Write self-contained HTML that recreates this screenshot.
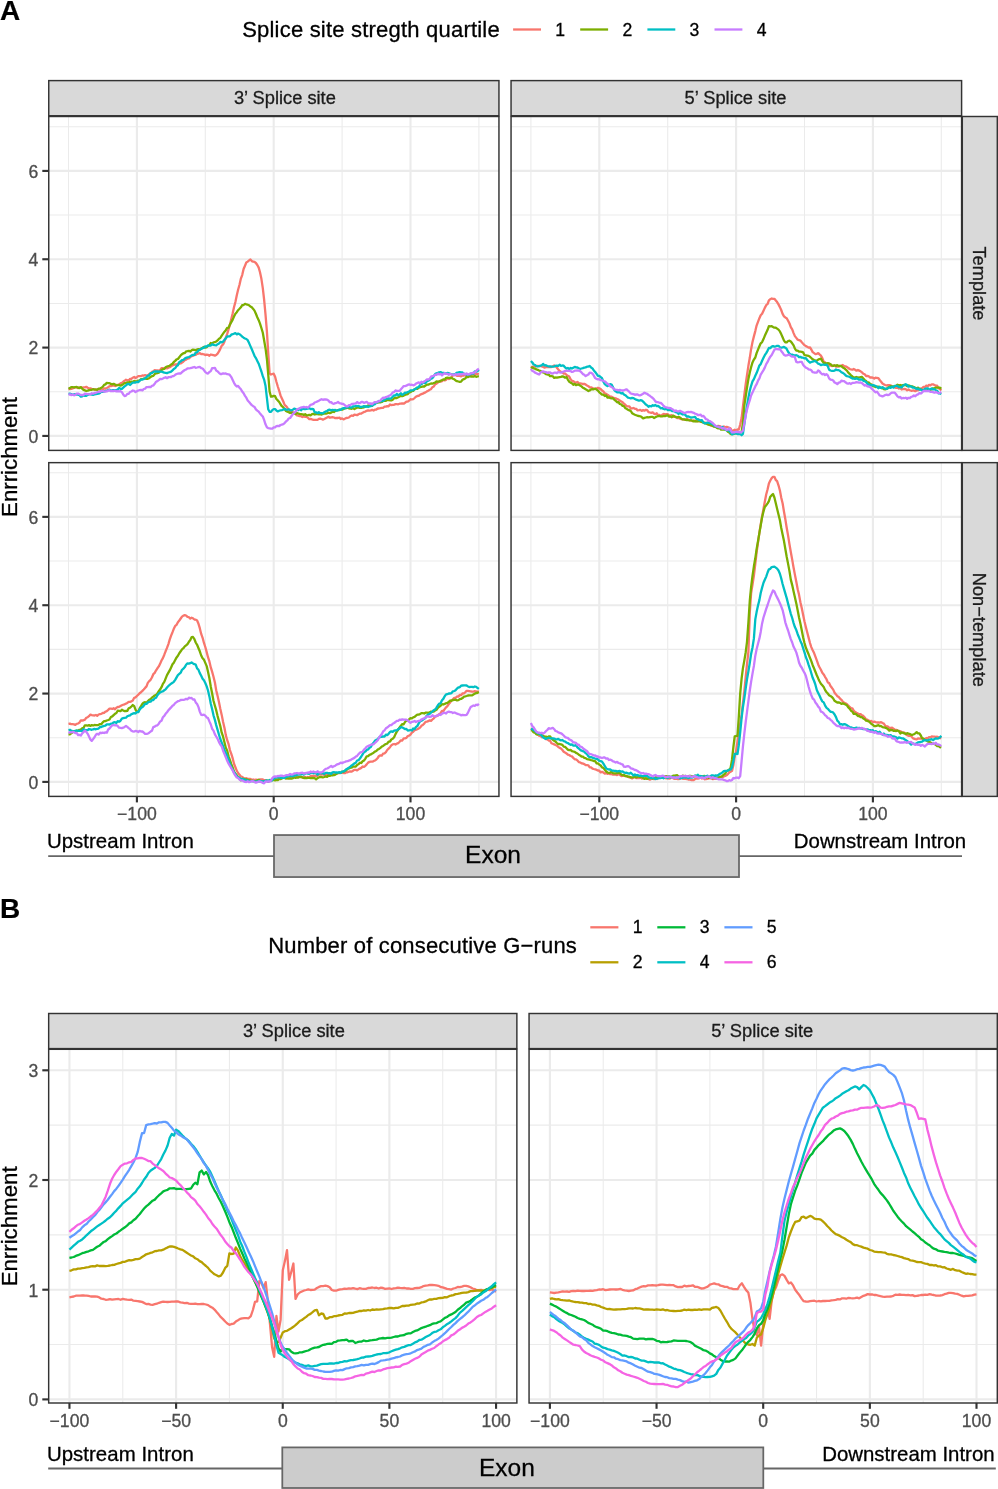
<!DOCTYPE html>
<html lang="en"><head><meta charset="utf-8"><title>Enrichment around splice sites</title>
<style>html,body{margin:0;padding:0;background:#fff}body{width:998px;height:1489px;overflow:hidden}svg{display:block;will-change:transform;transform:translateZ(0)}text{white-space:pre;paint-order:stroke}</style>
</head><body>
<svg width="998" height="1489" viewBox="0 0 998 1489" font-family='"Liberation Sans", Arial, Helvetica, sans-serif'>
<rect width="998" height="1489" fill="#fff"/>
<clipPath id="pa00"><rect x="48.75" y="116.5" width="450.2" height="333.9"/></clipPath>
<rect x="48.75" y="116.5" width="450.2" height="333.9" fill="#fff"/>
<g stroke="#EBEBEB" clip-path="url(#pa00)"><line x1="68.50" x2="68.50" y1="116.5" y2="450.4" stroke-width="1.07"/><line x1="205.30" x2="205.30" y1="116.5" y2="450.4" stroke-width="1.07"/><line x1="342.10" x2="342.10" y1="116.5" y2="450.4" stroke-width="1.07"/><line x1="478.90" x2="478.90" y1="116.5" y2="450.4" stroke-width="1.07"/><line x1="48.75" x2="498.95" y1="391.76" y2="391.76" stroke-width="1.07"/><line x1="48.75" x2="498.95" y1="303.42" y2="303.42" stroke-width="1.07"/><line x1="48.75" x2="498.95" y1="215.08" y2="215.08" stroke-width="1.07"/><line x1="48.75" x2="498.95" y1="126.74" y2="126.74" stroke-width="1.07"/><line x1="136.90" x2="136.90" y1="116.5" y2="450.4" stroke-width="2.13"/><line x1="273.70" x2="273.70" y1="116.5" y2="450.4" stroke-width="2.13"/><line x1="410.50" x2="410.50" y1="116.5" y2="450.4" stroke-width="2.13"/><line x1="48.75" x2="498.95" y1="435.93" y2="435.93" stroke-width="2.13"/><line x1="48.75" x2="498.95" y1="347.59" y2="347.59" stroke-width="2.13"/><line x1="48.75" x2="498.95" y1="259.25" y2="259.25" stroke-width="2.13"/><line x1="48.75" x2="498.95" y1="170.91" y2="170.91" stroke-width="2.13"/></g>
<polyline clip-path="url(#pa00)" points="68.5,389.1 69.9,389.1 71.2,388.9 72.6,388.4 74.0,388.0 75.3,387.2 76.7,387.5 78.1,388.1 79.4,387.4 80.8,387.3 82.2,387.6 83.5,387.4 84.9,387.3 86.3,386.8 87.7,387.7 89.0,388.4 90.4,388.3 91.8,389.1 93.1,389.1 94.5,389.6 95.9,389.3 97.2,389.8 98.6,389.1 100.0,389.6 101.3,389.6 102.7,389.5 104.1,388.4 105.4,388.6 106.8,388.0 108.2,387.3 109.5,386.2 110.9,386.2 112.3,385.6 113.6,385.5 115.0,386.0 116.4,385.0 117.7,384.8 119.1,384.6 120.5,383.3 121.9,382.8 123.2,381.8 124.6,380.8 126.0,379.7 127.3,380.2 128.7,380.6 130.1,378.8 131.4,378.8 132.8,377.7 134.2,377.0 135.5,378.0 136.9,377.2 138.3,376.1 139.6,376.2 141.0,376.1 142.4,375.5 143.7,375.6 145.1,375.2 146.5,375.5 147.8,375.7 149.2,374.0 150.6,373.4 151.9,371.9 153.3,371.4 154.7,370.2 156.1,370.3 157.4,370.4 158.8,370.6 160.2,370.0 161.5,368.2 162.9,368.1 164.3,368.7 165.6,367.9 167.0,368.4 168.4,367.7 169.7,367.2 171.1,366.2 172.5,365.3 173.8,364.9 175.2,364.3 176.6,364.7 177.9,363.6 179.3,363.6 180.7,363.4 182.0,362.6 183.4,361.5 184.8,360.2 186.1,359.7 187.5,358.6 188.9,358.3 190.3,357.1 191.6,356.1 193.0,355.9 194.4,355.0 195.7,354.9 197.1,353.8 198.5,353.6 199.8,353.0 201.2,354.2 202.6,354.0 203.9,354.3 205.3,355.1 206.7,354.6 208.0,354.8 209.4,355.7 210.8,354.5 212.1,354.8 213.5,355.1 214.9,355.6 216.2,355.0 217.6,353.6 219.0,351.4 220.3,348.9 221.7,345.8 223.1,344.4 224.5,341.5 225.8,337.7 227.2,333.9 228.6,329.1 229.9,324.7 231.3,318.9 232.7,313.2 234.0,307.3 235.4,302.0 236.8,295.3 238.1,289.7 239.5,284.7 240.9,278.6 242.2,275.1 243.6,269.0 245.0,265.7 246.3,262.5 247.7,261.6 249.1,260.4 250.4,259.5 251.8,261.1 253.2,261.7 254.5,261.9 255.9,263.0 257.3,265.0 258.7,267.6 260.0,272.2 261.4,278.8 262.8,288.2 264.1,299.5 265.5,314.4 266.9,331.4 268.2,352.4 269.6,373.4 271.0,374.5 272.3,374.0 273.7,373.7 275.1,376.8 276.4,381.7 277.8,386.5 279.2,390.8 280.5,395.4 281.9,398.5 283.3,401.5 284.6,404.8 286.0,406.1 287.4,407.8 288.7,409.8 290.1,411.2 291.5,410.9 292.9,412.3 294.2,413.2 295.6,413.7 297.0,415.4 298.3,415.6 299.7,416.2 301.1,416.2 302.4,417.0 303.8,416.4 305.2,416.8 306.5,416.9 307.9,417.8 309.3,419.2 310.6,418.9 312.0,419.4 313.4,419.8 314.7,419.9 316.1,419.9 317.5,419.9 318.8,418.9 320.2,418.7 321.6,419.0 322.9,419.6 324.3,419.0 325.7,418.2 327.1,417.4 328.4,416.7 329.8,417.7 331.2,417.3 332.5,417.2 333.9,417.5 335.3,418.1 336.6,418.0 338.0,418.0 339.4,417.6 340.7,419.0 342.1,418.4 343.5,419.4 344.8,418.7 346.2,418.0 347.6,417.8 348.9,417.5 350.3,416.2 351.7,415.5 353.0,415.9 354.4,414.6 355.8,414.8 357.1,415.2 358.5,414.2 359.9,413.6 361.3,413.7 362.6,412.7 364.0,411.9 365.4,411.6 366.7,410.8 368.1,410.3 369.5,410.7 370.8,410.4 372.2,409.9 373.6,410.5 374.9,409.7 376.3,409.5 377.7,408.5 379.0,408.5 380.4,408.2 381.8,407.9 383.1,407.8 384.5,406.7 385.9,406.6 387.2,406.1 388.6,406.3 390.0,404.5 391.3,405.1 392.7,404.8 394.1,404.8 395.5,404.1 396.8,404.2 398.2,404.3 399.6,403.7 400.9,403.7 402.3,403.3 403.7,403.7 405.0,402.8 406.4,401.6 407.8,401.7 409.1,400.6 410.5,399.2 411.9,399.5 413.2,399.2 414.6,398.0 416.0,396.7 417.3,396.0 418.7,395.9 420.1,394.7 421.4,394.1 422.8,393.6 424.2,392.9 425.5,392.4 426.9,391.4 428.3,390.8 429.7,389.7 431.0,389.2 432.4,387.2 433.8,386.5 435.1,384.3 436.5,383.6 437.9,382.5 439.2,381.2 440.6,381.6 442.0,381.1 443.3,379.9 444.7,380.3 446.1,379.8 447.4,378.3 448.8,379.1 450.2,378.2 451.5,377.1 452.9,375.4 454.3,375.0 455.6,375.0 457.0,375.9 458.4,375.9 459.7,375.8 461.1,376.3 462.5,375.3 463.9,375.5 465.2,375.1 466.6,376.7 468.0,376.4 469.3,376.1 470.7,375.5 472.1,374.8 473.4,374.3 474.8,373.9 476.2,374.0 477.5,373.9 478.9,374.2" fill="none" stroke="#F8766D" stroke-width="2.3" stroke-linejoin="round" stroke-linecap="butt"/>
<polyline clip-path="url(#pa00)" points="68.5,388.8 69.9,388.1 71.2,387.1 72.6,387.2 74.0,387.4 75.3,387.1 76.7,387.0 78.1,387.6 79.4,388.2 80.8,387.1 82.2,388.7 83.5,389.9 84.9,390.4 86.3,391.0 87.7,390.7 89.0,390.1 90.4,389.8 91.8,389.8 93.1,389.2 94.5,389.5 95.9,389.6 97.2,389.8 98.6,388.6 100.0,388.5 101.3,387.8 102.7,386.9 104.1,384.9 105.4,384.4 106.8,382.9 108.2,383.1 109.5,383.2 110.9,383.9 112.3,384.4 113.6,383.8 115.0,384.6 116.4,385.4 117.7,385.2 119.1,384.9 120.5,385.7 121.9,384.9 123.2,384.2 124.6,383.1 126.0,383.2 127.3,382.3 128.7,382.7 130.1,381.8 131.4,381.6 132.8,381.9 134.2,380.9 135.5,381.3 136.9,381.1 138.3,380.6 139.6,380.3 141.0,379.2 142.4,379.2 143.7,378.6 145.1,378.6 146.5,378.9 147.8,378.8 149.2,378.2 150.6,376.9 151.9,376.2 153.3,375.9 154.7,374.1 156.1,373.3 157.4,373.1 158.8,372.7 160.2,371.3 161.5,370.0 162.9,369.2 164.3,368.9 165.6,367.2 167.0,366.5 168.4,366.2 169.7,365.7 171.1,364.5 172.5,363.7 173.8,362.0 175.2,360.9 176.6,359.4 177.9,359.0 179.3,357.2 180.7,355.4 182.0,354.2 183.4,353.2 184.8,353.0 186.1,351.4 187.5,351.2 188.9,350.8 190.3,351.6 191.6,350.3 193.0,349.6 194.4,349.8 195.7,350.2 197.1,349.4 198.5,349.2 199.8,349.6 201.2,348.5 202.6,347.9 203.9,346.9 205.3,347.6 206.7,347.1 208.0,345.9 209.4,345.1 210.8,343.0 212.1,343.5 213.5,342.4 214.9,342.2 216.2,341.5 217.6,340.4 219.0,338.7 220.3,338.0 221.7,335.7 223.1,333.7 224.5,331.7 225.8,330.2 227.2,327.9 228.6,327.6 229.9,324.6 231.3,322.2 232.7,319.6 234.0,316.6 235.4,313.7 236.8,312.2 238.1,310.2 239.5,308.8 240.9,307.3 242.2,305.2 243.6,305.0 245.0,303.8 246.3,304.3 247.7,304.7 249.1,305.3 250.4,306.5 251.8,307.3 253.2,308.9 254.5,310.6 255.9,313.8 257.3,317.2 258.7,320.2 260.0,323.6 261.4,328.0 262.8,332.8 264.1,340.2 265.5,348.2 266.9,359.0 268.2,374.1 269.6,391.5 271.0,396.7 272.3,396.5 273.7,395.8 275.1,396.2 276.4,399.0 277.8,400.4 279.2,402.0 280.5,404.3 281.9,406.2 283.3,407.3 284.6,409.1 286.0,411.0 287.4,411.7 288.7,412.2 290.1,413.0 291.5,412.6 292.9,413.2 294.2,413.1 295.6,414.0 297.0,412.9 298.3,413.6 299.7,413.9 301.1,414.1 302.4,414.3 303.8,414.9 305.2,414.2 306.5,415.4 307.9,415.2 309.3,414.9 310.6,415.3 312.0,414.2 313.4,413.8 314.7,414.5 316.1,414.1 317.5,414.1 318.8,414.3 320.2,414.1 321.6,414.6 322.9,413.9 324.3,413.4 325.7,413.7 327.1,413.3 328.4,412.7 329.8,413.1 331.2,412.6 332.5,411.7 333.9,412.0 335.3,410.9 336.6,410.5 338.0,410.2 339.4,410.1 340.7,409.7 342.1,409.7 343.5,408.9 344.8,408.4 346.2,408.2 347.6,407.5 348.9,408.3 350.3,408.5 351.7,408.8 353.0,408.1 354.4,409.1 355.8,408.3 357.1,407.6 358.5,407.3 359.9,407.9 361.3,407.9 362.6,407.5 364.0,407.3 365.4,406.5 366.7,406.4 368.1,405.5 369.5,405.6 370.8,405.7 372.2,405.9 373.6,403.6 374.9,402.9 376.3,402.2 377.7,402.7 379.0,402.2 380.4,402.3 381.8,402.0 383.1,401.0 384.5,400.6 385.9,400.8 387.2,399.9 388.6,400.0 390.0,400.3 391.3,400.4 392.7,399.7 394.1,398.2 395.5,398.1 396.8,398.0 398.2,397.3 399.6,396.5 400.9,395.8 402.3,396.1 403.7,395.6 405.0,394.9 406.4,394.5 407.8,394.1 409.1,392.5 410.5,392.1 411.9,391.0 413.2,390.9 414.6,389.3 416.0,388.4 417.3,388.8 418.7,387.8 420.1,387.1 421.4,386.9 422.8,386.5 424.2,386.5 425.5,385.5 426.9,384.7 428.3,384.6 429.7,384.0 431.0,383.5 432.4,383.7 433.8,383.0 435.1,382.6 436.5,381.4 437.9,381.7 439.2,381.7 440.6,380.7 442.0,380.1 443.3,379.5 444.7,379.6 446.1,377.8 447.4,377.7 448.8,377.8 450.2,378.0 451.5,377.8 452.9,378.7 454.3,379.3 455.6,380.4 457.0,381.2 458.4,381.5 459.7,381.9 461.1,381.6 462.5,379.8 463.9,379.1 465.2,378.5 466.6,376.9 468.0,377.0 469.3,376.0 470.7,376.5 472.1,376.6 473.4,376.6 474.8,376.0 476.2,376.8 477.5,376.5 478.9,376.2" fill="none" stroke="#7CAE00" stroke-width="2.3" stroke-linejoin="round" stroke-linecap="butt"/>
<polyline clip-path="url(#pa00)" points="68.5,393.8 69.9,393.7 71.2,394.0 72.6,394.7 74.0,394.3 75.3,394.2 76.7,394.7 78.1,394.7 79.4,395.1 80.8,396.7 82.2,396.3 83.5,395.4 84.9,395.8 86.3,395.9 87.7,394.9 89.0,394.4 90.4,394.4 91.8,394.7 93.1,394.8 94.5,394.4 95.9,394.1 97.2,393.8 98.6,393.6 100.0,392.9 101.3,391.5 102.7,391.8 104.1,391.6 105.4,390.9 106.8,390.8 108.2,390.1 109.5,389.7 110.9,390.9 112.3,390.2 113.6,390.1 115.0,390.1 116.4,390.1 117.7,389.5 119.1,388.0 120.5,388.8 121.9,388.9 123.2,387.7 124.6,386.4 126.0,385.4 127.3,384.2 128.7,383.8 130.1,385.0 131.4,383.7 132.8,382.6 134.2,382.7 135.5,382.5 136.9,381.9 138.3,382.1 139.6,380.8 141.0,379.7 142.4,379.5 143.7,379.2 145.1,378.1 146.5,377.2 147.8,375.6 149.2,375.5 150.6,373.1 151.9,373.1 153.3,371.9 154.7,371.5 156.1,371.5 157.4,371.4 158.8,371.7 160.2,371.7 161.5,371.7 162.9,372.1 164.3,372.7 165.6,372.8 167.0,373.1 168.4,372.5 169.7,372.2 171.1,371.7 172.5,370.4 173.8,369.0 175.2,368.1 176.6,366.1 177.9,365.2 179.3,362.1 180.7,361.4 182.0,360.1 183.4,359.8 184.8,358.6 186.1,357.8 187.5,357.3 188.9,357.0 190.3,356.3 191.6,355.4 193.0,354.9 194.4,354.9 195.7,352.6 197.1,352.2 198.5,350.4 199.8,349.8 201.2,349.0 202.6,348.0 203.9,347.8 205.3,346.3 206.7,346.6 208.0,345.5 209.4,345.7 210.8,345.5 212.1,344.2 213.5,344.9 214.9,345.2 216.2,345.3 217.6,344.2 219.0,343.4 220.3,341.9 221.7,342.3 223.1,341.6 224.5,339.8 225.8,338.4 227.2,336.5 228.6,336.4 229.9,336.3 231.3,334.7 232.7,334.2 234.0,333.7 235.4,333.2 236.8,334.4 238.1,333.6 239.5,334.2 240.9,335.3 242.2,336.6 243.6,337.7 245.0,338.5 246.3,339.0 247.7,340.2 249.1,343.1 250.4,346.1 251.8,349.2 253.2,352.6 254.5,355.8 255.9,358.1 257.3,360.9 258.7,363.7 260.0,367.5 261.4,371.5 262.8,376.2 264.1,379.6 265.5,385.7 266.9,397.8 268.2,409.2 269.6,411.8 271.0,411.9 272.3,410.1 273.7,409.1 275.1,409.1 276.4,410.6 277.8,411.4 279.2,410.8 280.5,410.3 281.9,410.1 283.3,409.6 284.6,408.9 286.0,409.6 287.4,409.8 288.7,409.3 290.1,410.1 291.5,410.4 292.9,409.7 294.2,408.6 295.6,409.1 297.0,409.5 298.3,410.1 299.7,408.6 301.1,410.3 302.4,408.6 303.8,409.0 305.2,409.1 306.5,408.8 307.9,408.6 309.3,408.1 310.6,409.1 312.0,409.0 313.4,409.1 314.7,412.4 316.1,412.3 317.5,413.2 318.8,412.1 320.2,413.2 321.6,413.2 322.9,413.3 324.3,412.2 325.7,411.4 327.1,411.1 328.4,409.8 329.8,409.7 331.2,410.4 332.5,409.9 333.9,410.1 335.3,409.9 336.6,410.7 338.0,410.3 339.4,409.5 340.7,409.8 342.1,408.5 343.5,408.2 344.8,408.3 346.2,407.2 347.6,407.5 348.9,406.8 350.3,407.4 351.7,407.6 353.0,406.3 354.4,406.3 355.8,406.0 357.1,406.1 358.5,405.9 359.9,406.8 361.3,407.0 362.6,406.6 364.0,406.1 365.4,406.9 366.7,406.3 368.1,407.0 369.5,406.5 370.8,406.1 372.2,405.7 373.6,404.6 374.9,404.1 376.3,402.6 377.7,402.1 379.0,401.0 380.4,401.4 381.8,401.0 383.1,400.8 384.5,400.0 385.9,398.5 387.2,398.6 388.6,398.5 390.0,398.7 391.3,398.3 392.7,396.8 394.1,395.4 395.5,395.5 396.8,393.9 398.2,395.3 399.6,394.4 400.9,393.3 402.3,394.9 403.7,394.0 405.0,392.6 406.4,392.8 407.8,392.0 409.1,391.5 410.5,390.4 411.9,390.3 413.2,390.1 414.6,389.2 416.0,388.8 417.3,387.3 418.7,387.1 420.1,384.8 421.4,384.3 422.8,383.0 424.2,382.7 425.5,383.1 426.9,381.2 428.3,380.7 429.7,379.8 431.0,378.7 432.4,378.1 433.8,376.2 435.1,374.1 436.5,373.3 437.9,372.9 439.2,372.3 440.6,372.1 442.0,372.9 443.3,372.8 444.7,373.2 446.1,373.6 447.4,373.0 448.8,373.2 450.2,373.9 451.5,374.2 452.9,374.4 454.3,374.4 455.6,373.7 457.0,372.6 458.4,372.4 459.7,372.1 461.1,372.4 462.5,372.5 463.9,373.9 465.2,374.0 466.6,374.7 468.0,374.7 469.3,374.7 470.7,373.7 472.1,373.5 473.4,373.7 474.8,371.3 476.2,371.7 477.5,371.2 478.9,369.9" fill="none" stroke="#00BFC4" stroke-width="2.3" stroke-linejoin="round" stroke-linecap="butt"/>
<polyline clip-path="url(#pa00)" points="68.5,394.5 69.9,394.3 71.2,395.1 72.6,394.5 74.0,395.3 75.3,395.0 76.7,393.6 78.1,393.6 79.4,394.3 80.8,395.0 82.2,394.8 83.5,395.0 84.9,393.6 86.3,394.0 87.7,394.2 89.0,394.2 90.4,394.4 91.8,393.2 93.1,393.7 94.5,393.0 95.9,392.8 97.2,392.2 98.6,391.9 100.0,391.8 101.3,390.8 102.7,391.2 104.1,391.6 105.4,391.5 106.8,391.4 108.2,390.6 109.5,390.2 110.9,391.2 112.3,390.8 113.6,391.2 115.0,390.7 116.4,391.4 117.7,391.2 119.1,391.4 120.5,391.2 121.9,392.1 123.2,394.4 124.6,396.1 126.0,395.7 127.3,393.9 128.7,393.8 130.1,391.8 131.4,391.5 132.8,390.5 134.2,390.9 135.5,392.1 136.9,391.3 138.3,390.5 139.6,390.2 141.0,389.9 142.4,390.4 143.7,389.0 145.1,388.7 146.5,387.1 147.8,387.1 149.2,386.9 150.6,387.2 151.9,385.8 153.3,385.4 154.7,383.8 156.1,381.7 157.4,381.1 158.8,380.1 160.2,378.8 161.5,379.2 162.9,378.5 164.3,377.7 165.6,377.2 167.0,378.2 168.4,377.2 169.7,377.2 171.1,377.0 172.5,376.1 173.8,376.0 175.2,374.8 176.6,374.0 177.9,373.7 179.3,373.5 180.7,373.5 182.0,372.1 183.4,371.0 184.8,370.0 186.1,369.5 187.5,368.4 188.9,368.3 190.3,368.2 191.6,367.8 193.0,367.4 194.4,367.0 195.7,367.8 197.1,367.5 198.5,367.1 199.8,366.9 201.2,368.1 202.6,368.5 203.9,370.1 205.3,372.0 206.7,373.2 208.0,373.6 209.4,372.0 210.8,371.1 212.1,368.2 213.5,368.1 214.9,367.8 216.2,370.5 217.6,371.4 219.0,372.8 220.3,374.0 221.7,374.0 223.1,373.3 224.5,373.7 225.8,373.5 227.2,374.2 228.6,374.3 229.9,375.1 231.3,377.1 232.7,380.1 234.0,382.8 235.4,385.1 236.8,386.5 238.1,385.9 239.5,387.7 240.9,389.3 242.2,391.6 243.6,393.3 245.0,395.9 246.3,397.7 247.7,400.5 249.1,402.0 250.4,403.6 251.8,405.1 253.2,406.2 254.5,406.9 255.9,409.3 257.3,410.6 258.7,411.7 260.0,413.4 261.4,415.1 262.8,416.5 264.1,419.8 265.5,424.3 266.9,427.2 268.2,428.1 269.6,428.3 271.0,428.6 272.3,428.6 273.7,427.4 275.1,427.3 276.4,426.2 277.8,425.8 279.2,426.1 280.5,425.0 281.9,424.6 283.3,424.2 284.6,423.1 286.0,421.4 287.4,420.3 288.7,418.5 290.1,418.0 291.5,416.0 292.9,414.0 294.2,412.9 295.6,411.6 297.0,409.5 298.3,408.9 299.7,408.3 301.1,407.4 302.4,407.4 303.8,406.8 305.2,407.3 306.5,407.0 307.9,407.7 309.3,406.3 310.6,404.8 312.0,404.4 313.4,403.9 314.7,402.5 316.1,402.0 317.5,401.4 318.8,400.8 320.2,399.9 321.6,399.2 322.9,399.8 324.3,399.3 325.7,399.5 327.1,399.7 328.4,400.5 329.8,402.3 331.2,402.1 332.5,403.5 333.9,403.8 335.3,403.1 336.6,402.9 338.0,402.0 339.4,403.1 340.7,403.4 342.1,403.9 343.5,404.0 344.8,405.3 346.2,406.3 347.6,406.4 348.9,405.2 350.3,405.2 351.7,404.0 353.0,403.9 354.4,403.6 355.8,403.3 357.1,402.1 358.5,402.9 359.9,403.1 361.3,402.0 362.6,401.9 364.0,402.8 365.4,402.4 366.7,401.8 368.1,403.3 369.5,403.5 370.8,403.3 372.2,404.2 373.6,402.8 374.9,402.1 376.3,402.3 377.7,401.6 379.0,401.2 380.4,400.5 381.8,398.8 383.1,397.7 384.5,398.0 385.9,397.0 387.2,396.6 388.6,396.0 390.0,395.2 391.3,394.4 392.7,392.4 394.1,392.1 395.5,390.4 396.8,391.0 398.2,390.8 399.6,390.9 400.9,389.3 402.3,387.7 403.7,386.1 405.0,386.1 406.4,385.7 407.8,384.8 409.1,384.4 410.5,385.0 411.9,384.7 413.2,385.3 414.6,384.8 416.0,383.6 417.3,383.0 418.7,382.4 420.1,383.5 421.4,381.7 422.8,382.5 424.2,381.5 425.5,380.6 426.9,379.5 428.3,379.5 429.7,378.8 431.0,376.7 432.4,376.2 433.8,375.8 435.1,374.7 436.5,374.8 437.9,373.6 439.2,374.4 440.6,373.8 442.0,375.4 443.3,374.0 444.7,373.2 446.1,373.9 447.4,373.8 448.8,374.8 450.2,374.0 451.5,374.4 452.9,374.7 454.3,375.1 455.6,374.2 457.0,374.6 458.4,374.3 459.7,374.2 461.1,374.4 462.5,374.2 463.9,373.6 465.2,374.4 466.6,373.5 468.0,374.5 469.3,374.1 470.7,373.4 472.1,373.0 473.4,372.9 474.8,372.3 476.2,371.1 477.5,369.6 478.9,368.6" fill="none" stroke="#C77CFF" stroke-width="2.3" stroke-linejoin="round" stroke-linecap="butt"/>
<rect x="48.75" y="116.5" width="450.2" height="333.9" fill="none" stroke="#333333" stroke-width="1.45"/>
<clipPath id="pa01"><rect x="511.05" y="116.5" width="450.55" height="333.9"/></clipPath>
<rect x="511.05" y="116.5" width="450.55" height="333.9" fill="#fff"/>
<g stroke="#EBEBEB" clip-path="url(#pa01)"><line x1="530.90" x2="530.90" y1="116.5" y2="450.4" stroke-width="1.07"/><line x1="667.70" x2="667.70" y1="116.5" y2="450.4" stroke-width="1.07"/><line x1="804.50" x2="804.50" y1="116.5" y2="450.4" stroke-width="1.07"/><line x1="941.30" x2="941.30" y1="116.5" y2="450.4" stroke-width="1.07"/><line x1="511.05" x2="961.6" y1="391.76" y2="391.76" stroke-width="1.07"/><line x1="511.05" x2="961.6" y1="303.42" y2="303.42" stroke-width="1.07"/><line x1="511.05" x2="961.6" y1="215.08" y2="215.08" stroke-width="1.07"/><line x1="511.05" x2="961.6" y1="126.74" y2="126.74" stroke-width="1.07"/><line x1="599.30" x2="599.30" y1="116.5" y2="450.4" stroke-width="2.13"/><line x1="736.10" x2="736.10" y1="116.5" y2="450.4" stroke-width="2.13"/><line x1="872.90" x2="872.90" y1="116.5" y2="450.4" stroke-width="2.13"/><line x1="511.05" x2="961.6" y1="435.93" y2="435.93" stroke-width="2.13"/><line x1="511.05" x2="961.6" y1="347.59" y2="347.59" stroke-width="2.13"/><line x1="511.05" x2="961.6" y1="259.25" y2="259.25" stroke-width="2.13"/><line x1="511.05" x2="961.6" y1="170.91" y2="170.91" stroke-width="2.13"/></g>
<polyline clip-path="url(#pa01)" points="530.9,367.2 532.3,366.9 533.6,366.7 535.0,366.6 536.4,366.2 537.7,365.8 539.1,366.2 540.5,366.0 541.8,366.5 543.2,367.0 544.6,367.6 545.9,367.2 547.3,366.8 548.7,367.0 550.1,366.9 551.4,367.0 552.8,366.3 554.2,365.5 555.5,366.3 556.9,367.7 558.3,369.5 559.6,371.0 561.0,371.8 562.4,372.3 563.7,373.6 565.1,373.5 566.5,374.9 567.8,375.8 569.2,376.6 570.6,379.3 571.9,380.8 573.3,381.2 574.7,382.2 576.0,382.7 577.4,381.9 578.8,383.3 580.1,383.4 581.5,383.6 582.9,384.0 584.3,383.8 585.6,384.6 587.0,385.5 588.4,386.2 589.7,387.4 591.1,387.3 592.5,388.0 593.8,388.6 595.2,388.6 596.6,388.6 597.9,387.8 599.3,388.4 600.7,389.1 602.0,390.5 603.4,391.5 604.8,393.4 606.1,393.9 607.5,394.8 608.9,395.7 610.2,396.7 611.6,396.7 613.0,397.6 614.3,398.0 615.7,398.4 617.1,399.0 618.5,399.6 619.8,400.6 621.2,401.4 622.6,402.3 623.9,403.8 625.3,404.8 626.7,406.1 628.0,406.4 629.4,406.4 630.8,408.5 632.1,408.4 633.5,408.0 634.9,408.8 636.2,408.9 637.6,410.4 639.0,410.2 640.3,409.9 641.7,410.9 643.1,410.1 644.4,410.7 645.8,409.8 647.2,410.1 648.5,412.1 649.9,412.5 651.3,412.9 652.7,412.3 654.0,413.6 655.4,414.2 656.8,413.3 658.1,415.1 659.5,415.0 660.9,416.0 662.2,414.7 663.6,413.9 665.0,414.4 666.3,414.2 667.7,414.2 669.1,415.3 670.4,415.5 671.8,415.2 673.2,416.9 674.5,416.3 675.9,416.8 677.3,418.1 678.6,418.0 680.0,418.6 681.4,419.2 682.7,419.4 684.1,419.5 685.5,419.6 686.9,418.7 688.2,419.6 689.6,420.4 691.0,420.4 692.3,421.0 693.7,420.4 695.1,421.0 696.4,420.9 697.8,421.0 699.2,420.9 700.5,421.8 701.9,421.6 703.3,422.5 704.6,422.6 706.0,422.8 707.4,424.0 708.7,424.5 710.1,424.5 711.5,425.9 712.8,425.9 714.2,426.3 715.6,426.6 716.9,426.2 718.3,426.0 719.7,426.1 721.1,426.7 722.4,427.2 723.8,426.5 725.2,427.6 726.5,426.8 727.9,427.2 729.3,427.8 730.6,428.6 732.0,430.8 733.4,430.5 734.7,429.7 736.1,430.5 737.5,429.5 738.8,429.5 740.2,424.6 741.6,418.1 742.9,407.0 744.3,395.5 745.7,384.2 747.0,375.2 748.4,365.8 749.8,357.8 751.1,349.2 752.5,342.0 753.9,336.4 755.3,331.1 756.6,325.6 758.0,321.9 759.4,318.2 760.7,315.3 762.1,313.8 763.5,310.8 764.8,307.9 766.2,305.2 767.6,304.0 768.9,300.3 770.3,299.2 771.7,298.5 773.0,298.9 774.4,298.8 775.8,300.5 777.1,302.1 778.5,304.4 779.9,307.1 781.2,310.0 782.6,313.9 784.0,316.3 785.3,317.4 786.7,318.2 788.1,320.7 789.5,323.5 790.8,327.1 792.2,329.4 793.6,333.1 794.9,336.1 796.3,337.9 797.7,339.7 799.0,340.1 800.4,340.6 801.8,342.3 803.1,343.7 804.5,345.1 805.9,346.1 807.2,346.7 808.6,347.6 810.0,347.5 811.3,349.5 812.7,352.1 814.1,353.1 815.4,354.1 816.8,353.8 818.2,353.1 819.5,354.4 820.9,355.7 822.3,358.1 823.7,361.7 825.0,362.3 826.4,363.8 827.8,364.6 829.1,365.5 830.5,365.3 831.9,366.1 833.2,365.7 834.6,365.5 836.0,366.7 837.3,366.6 838.7,366.3 840.1,365.9 841.4,365.6 842.8,365.0 844.2,366.2 845.5,366.3 846.9,367.1 848.3,367.9 849.6,369.0 851.0,369.4 852.4,369.7 853.7,369.0 855.1,369.7 856.5,370.7 857.9,370.0 859.2,370.6 860.6,371.3 862.0,372.4 863.3,373.7 864.7,374.3 866.1,376.0 867.4,375.9 868.8,376.4 870.2,377.5 871.5,377.3 872.9,377.7 874.3,378.6 875.6,377.6 877.0,378.0 878.4,378.2 879.7,380.0 881.1,381.7 882.5,383.5 883.8,384.4 885.2,385.0 886.6,385.5 887.9,385.1 889.3,385.1 890.7,385.4 892.1,386.5 893.4,386.8 894.8,387.6 896.2,387.8 897.5,387.6 898.9,388.5 900.3,388.0 901.6,389.5 903.0,389.1 904.4,389.0 905.7,389.2 907.1,390.3 908.5,389.5 909.8,390.2 911.2,390.8 912.6,390.6 913.9,390.4 915.3,391.2 916.7,390.2 918.0,390.3 919.4,389.3 920.8,388.5 922.1,388.3 923.5,386.9 924.9,387.2 926.3,385.6 927.6,386.4 929.0,384.8 930.4,385.3 931.7,384.4 933.1,384.4 934.5,385.0 935.8,385.7 937.2,385.7 938.6,388.2 939.9,388.9 941.3,390.6" fill="none" stroke="#F8766D" stroke-width="2.3" stroke-linejoin="round" stroke-linecap="butt"/>
<polyline clip-path="url(#pa01)" points="530.9,368.5 532.3,367.5 533.6,368.3 535.0,368.7 536.4,369.4 537.7,369.8 539.1,370.6 540.5,370.9 541.8,371.8 543.2,372.3 544.6,373.1 545.9,374.1 547.3,374.5 548.7,374.5 550.1,376.2 551.4,376.0 552.8,376.3 554.2,377.9 555.5,377.5 556.9,377.7 558.3,377.3 559.6,377.1 561.0,376.9 562.4,376.3 563.7,376.7 565.1,377.7 566.5,377.0 567.8,379.6 569.2,381.7 570.6,382.6 571.9,383.2 573.3,384.8 574.7,383.9 576.0,385.2 577.4,384.7 578.8,384.7 580.1,385.5 581.5,386.4 582.9,387.8 584.3,388.4 585.6,389.3 587.0,390.1 588.4,391.0 589.7,390.5 591.1,389.4 592.5,389.1 593.8,389.3 595.2,388.7 596.6,389.6 597.9,390.6 599.3,392.3 600.7,393.4 602.0,394.6 603.4,394.6 604.8,396.0 606.1,395.4 607.5,397.5 608.9,397.3 610.2,398.1 611.6,398.3 613.0,398.2 614.3,399.7 615.7,400.8 617.1,402.3 618.5,402.1 619.8,404.0 621.2,404.3 622.6,405.9 623.9,406.1 625.3,408.2 626.7,408.8 628.0,409.8 629.4,410.4 630.8,411.0 632.1,413.2 633.5,414.0 634.9,414.7 636.2,415.2 637.6,415.8 639.0,416.0 640.3,416.3 641.7,417.1 643.1,418.4 644.4,417.9 645.8,417.5 647.2,417.2 648.5,417.4 649.9,417.1 651.3,416.8 652.7,416.8 654.0,418.0 655.4,417.2 656.8,416.5 658.1,416.1 659.5,416.0 660.9,416.3 662.2,416.3 663.6,416.0 665.0,416.1 666.3,415.6 667.7,415.3 669.1,416.7 670.4,416.4 671.8,417.2 673.2,415.6 674.5,416.4 675.9,417.2 677.3,417.3 678.6,416.9 680.0,417.5 681.4,418.7 682.7,419.4 684.1,419.4 685.5,419.8 686.9,420.0 688.2,420.2 689.6,420.3 691.0,420.3 692.3,420.8 693.7,421.3 695.1,421.2 696.4,421.4 697.8,421.3 699.2,421.0 700.5,421.3 701.9,422.1 703.3,422.4 704.6,423.4 706.0,423.4 707.4,424.1 708.7,424.7 710.1,425.1 711.5,425.0 712.8,425.9 714.2,426.7 715.6,426.9 716.9,427.8 718.3,428.3 719.7,428.1 721.1,429.7 722.4,429.3 723.8,429.5 725.2,429.6 726.5,430.0 727.9,431.7 729.3,432.6 730.6,434.1 732.0,433.8 733.4,434.0 734.7,433.6 736.1,433.2 737.5,433.5 738.8,432.7 740.2,432.9 741.6,431.9 742.9,423.5 744.3,405.6 745.7,396.3 747.0,387.7 748.4,379.1 749.8,372.4 751.1,367.2 752.5,362.4 753.9,359.6 755.3,357.5 756.6,353.1 758.0,349.6 759.4,346.3 760.7,343.3 762.1,342.1 763.5,339.1 764.8,335.8 766.2,332.7 767.6,329.8 768.9,326.1 770.3,326.4 771.7,326.1 773.0,327.0 774.4,327.7 775.8,327.7 777.1,328.6 778.5,329.6 779.9,331.4 781.2,334.1 782.6,337.3 784.0,340.6 785.3,342.3 786.7,342.4 788.1,341.0 789.5,340.7 790.8,341.5 792.2,343.3 793.6,345.4 794.9,348.6 796.3,350.6 797.7,350.6 799.0,351.7 800.4,351.7 801.8,351.9 803.1,352.4 804.5,355.0 805.9,355.3 807.2,355.6 808.6,355.9 810.0,356.8 811.3,358.0 812.7,359.3 814.1,360.1 815.4,360.4 816.8,360.6 818.2,359.6 819.5,359.0 820.9,358.7 822.3,361.1 823.7,362.9 825.0,363.2 826.4,363.6 827.8,363.2 829.1,363.4 830.5,364.2 831.9,365.5 833.2,365.9 834.6,365.3 836.0,365.9 837.3,365.1 838.7,366.0 840.1,365.9 841.4,366.1 842.8,367.5 844.2,368.2 845.5,369.4 846.9,370.6 848.3,372.6 849.6,373.8 851.0,375.3 852.4,376.4 853.7,377.9 855.1,377.4 856.5,377.0 857.9,377.6 859.2,377.5 860.6,377.2 862.0,376.9 863.3,378.4 864.7,380.1 866.1,381.0 867.4,382.8 868.8,382.4 870.2,384.1 871.5,384.3 872.9,386.2 874.3,386.4 875.6,387.1 877.0,386.6 878.4,386.7 879.7,387.5 881.1,388.0 882.5,388.0 883.8,389.1 885.2,389.4 886.6,389.0 887.9,387.6 889.3,387.1 890.7,386.1 892.1,386.9 893.4,386.3 894.8,386.3 896.2,385.7 897.5,384.7 898.9,385.3 900.3,385.0 901.6,385.5 903.0,385.1 904.4,384.8 905.7,385.1 907.1,386.2 908.5,385.4 909.8,385.9 911.2,386.5 912.6,386.5 913.9,387.0 915.3,387.7 916.7,388.9 918.0,387.6 919.4,388.9 920.8,389.4 922.1,390.1 923.5,390.4 924.9,390.2 926.3,390.7 927.6,390.0 929.0,390.4 930.4,390.0 931.7,389.3 933.1,388.3 934.5,388.3 935.8,387.6 937.2,387.6 938.6,387.6 939.9,387.7 941.3,388.7" fill="none" stroke="#7CAE00" stroke-width="2.3" stroke-linejoin="round" stroke-linecap="butt"/>
<polyline clip-path="url(#pa01)" points="530.9,361.0 532.3,362.5 533.6,364.5 535.0,365.0 536.4,366.1 537.7,366.3 539.1,366.2 540.5,365.6 541.8,365.3 543.2,363.9 544.6,365.5 545.9,365.2 547.3,366.0 548.7,366.4 550.1,366.5 551.4,366.6 552.8,366.6 554.2,366.5 555.5,365.8 556.9,365.6 558.3,366.0 559.6,364.7 561.0,365.9 562.4,365.5 563.7,365.7 565.1,367.4 566.5,368.5 567.8,368.0 569.2,369.1 570.6,368.0 571.9,368.5 573.3,367.7 574.7,366.9 576.0,367.4 577.4,367.5 578.8,368.3 580.1,368.8 581.5,368.5 582.9,368.1 584.3,367.6 585.6,367.4 587.0,366.7 588.4,366.6 589.7,365.9 591.1,367.6 592.5,368.4 593.8,370.5 595.2,372.0 596.6,373.9 597.9,375.9 599.3,376.0 600.7,377.1 602.0,378.2 603.4,381.7 604.8,384.1 606.1,385.2 607.5,386.1 608.9,385.2 610.2,384.1 611.6,384.5 613.0,387.3 614.3,389.9 615.7,391.4 617.1,392.3 618.5,392.2 619.8,392.3 621.2,393.5 622.6,393.0 623.9,394.5 625.3,395.2 626.7,396.5 628.0,397.7 629.4,398.0 630.8,398.3 632.1,397.9 633.5,398.1 634.9,399.0 636.2,399.6 637.6,400.1 639.0,400.7 640.3,400.2 641.7,400.4 643.1,401.7 644.4,402.9 645.8,404.5 647.2,405.4 648.5,406.8 649.9,406.0 651.3,406.4 652.7,405.2 654.0,405.8 655.4,405.0 656.8,406.2 658.1,405.9 659.5,407.0 660.9,408.3 662.2,408.0 663.6,409.0 665.0,409.3 666.3,408.8 667.7,410.0 669.1,410.1 670.4,409.8 671.8,411.0 673.2,410.9 674.5,411.4 675.9,412.2 677.3,412.6 678.6,414.0 680.0,412.6 681.4,413.8 682.7,414.5 684.1,414.2 685.5,415.1 686.9,416.6 688.2,416.4 689.6,417.0 691.0,417.6 692.3,417.3 693.7,417.2 695.1,416.9 696.4,418.8 697.8,419.1 699.2,419.9 700.5,420.3 701.9,420.1 703.3,422.5 704.6,423.2 706.0,423.4 707.4,422.5 708.7,422.8 710.1,423.2 711.5,423.8 712.8,424.3 714.2,425.7 715.6,426.3 716.9,426.8 718.3,426.6 719.7,427.7 721.1,427.5 722.4,426.9 723.8,428.4 725.2,429.3 726.5,430.3 727.9,430.2 729.3,431.1 730.6,432.3 732.0,434.3 733.4,433.9 734.7,433.4 736.1,433.2 737.5,434.0 738.8,434.0 740.2,434.0 741.6,435.2 742.9,434.0 744.3,424.2 745.7,414.6 747.0,405.7 748.4,397.7 749.8,390.6 751.1,385.8 752.5,381.4 753.9,379.1 755.3,375.7 756.6,373.1 758.0,369.3 759.4,365.5 760.7,364.1 762.1,360.7 763.5,357.8 764.8,355.2 766.2,353.1 767.6,350.6 768.9,348.0 770.3,348.2 771.7,346.6 773.0,346.1 774.4,346.6 775.8,346.3 777.1,345.8 778.5,345.8 779.9,347.2 781.2,347.7 782.6,347.4 784.0,346.9 785.3,347.7 786.7,348.9 788.1,351.7 789.5,353.6 790.8,354.6 792.2,354.6 793.6,355.2 794.9,355.6 796.3,355.2 797.7,355.8 799.0,357.1 800.4,356.8 801.8,357.7 803.1,357.7 804.5,358.4 805.9,358.2 807.2,360.0 808.6,361.4 810.0,362.6 811.3,362.0 812.7,361.6 814.1,361.2 815.4,361.2 816.8,362.3 818.2,363.7 819.5,364.1 820.9,365.2 822.3,364.7 823.7,364.6 825.0,364.8 826.4,364.6 827.8,366.3 829.1,369.7 830.5,370.5 831.9,370.8 833.2,370.9 834.6,370.6 836.0,369.4 837.3,370.2 838.7,370.1 840.1,371.0 841.4,372.3 842.8,372.9 844.2,373.9 845.5,375.2 846.9,376.2 848.3,376.5 849.6,376.8 851.0,377.8 852.4,378.5 853.7,378.6 855.1,378.8 856.5,378.4 857.9,378.9 859.2,379.7 860.6,379.5 862.0,379.5 863.3,380.8 864.7,381.1 866.1,382.1 867.4,383.7 868.8,384.9 870.2,384.7 871.5,385.4 872.9,385.1 874.3,385.4 875.6,386.1 877.0,386.9 878.4,388.2 879.7,386.8 881.1,388.0 882.5,387.1 883.8,388.0 885.2,388.7 886.6,388.8 887.9,388.4 889.3,387.4 890.7,387.8 892.1,386.7 893.4,387.6 894.8,385.8 896.2,385.9 897.5,385.8 898.9,387.1 900.3,387.1 901.6,387.5 903.0,385.6 904.4,385.0 905.7,384.2 907.1,385.0 908.5,386.7 909.8,386.4 911.2,386.4 912.6,387.7 913.9,387.5 915.3,388.2 916.7,389.1 918.0,388.6 919.4,389.6 920.8,389.3 922.1,390.4 923.5,390.1 924.9,388.8 926.3,388.5 927.6,388.3 929.0,389.0 930.4,389.3 931.7,388.4 933.1,389.5 934.5,389.2 935.8,390.2 937.2,390.9 938.6,393.4 939.9,393.4 941.3,394.0" fill="none" stroke="#00BFC4" stroke-width="2.3" stroke-linejoin="round" stroke-linecap="butt"/>
<polyline clip-path="url(#pa01)" points="530.9,368.8 532.3,371.0 533.6,371.4 535.0,372.6 536.4,373.3 537.7,373.9 539.1,374.5 540.5,372.7 541.8,371.7 543.2,371.4 544.6,372.0 545.9,372.1 547.3,372.9 548.7,372.3 550.1,372.5 551.4,373.3 552.8,373.5 554.2,372.6 555.5,372.6 556.9,373.1 558.3,372.0 559.6,372.3 561.0,372.7 562.4,372.0 563.7,371.5 565.1,370.9 566.5,370.8 567.8,370.9 569.2,370.8 570.6,371.1 571.9,371.9 573.3,371.6 574.7,370.6 576.0,370.7 577.4,370.4 578.8,370.6 580.1,371.1 581.5,372.4 582.9,374.1 584.3,374.8 585.6,376.1 587.0,375.2 588.4,374.5 589.7,372.7 591.1,372.8 592.5,373.7 593.8,375.6 595.2,378.1 596.6,378.9 597.9,379.4 599.3,379.2 600.7,380.2 602.0,380.3 603.4,381.0 604.8,381.4 606.1,382.5 607.5,383.8 608.9,384.7 610.2,386.4 611.6,387.0 613.0,388.2 614.3,389.3 615.7,389.7 617.1,389.9 618.5,390.3 619.8,389.9 621.2,390.3 622.6,390.5 623.9,390.3 625.3,389.7 626.7,389.4 628.0,390.7 629.4,391.9 630.8,393.5 632.1,393.8 633.5,394.1 634.9,394.8 636.2,394.4 637.6,394.5 639.0,395.3 640.3,395.3 641.7,394.6 643.1,393.8 644.4,392.7 645.8,393.4 647.2,393.9 648.5,395.0 649.9,395.8 651.3,397.0 652.7,398.0 654.0,399.4 655.4,401.4 656.8,402.1 658.1,402.2 659.5,402.8 660.9,403.0 662.2,404.1 663.6,405.9 665.0,407.0 666.3,407.3 667.7,407.9 669.1,408.0 670.4,408.1 671.8,408.9 673.2,409.7 674.5,411.2 675.9,410.4 677.3,411.4 678.6,411.4 680.0,410.8 681.4,411.6 682.7,412.1 684.1,413.0 685.5,412.8 686.9,412.1 688.2,412.0 689.6,412.2 691.0,411.9 692.3,412.3 693.7,412.8 695.1,413.7 696.4,414.0 697.8,415.0 699.2,415.0 700.5,414.6 701.9,416.3 703.3,415.9 704.6,417.3 706.0,419.2 707.4,419.5 708.7,420.9 710.1,421.2 711.5,422.1 712.8,423.2 714.2,424.5 715.6,425.9 716.9,426.4 718.3,426.9 719.7,427.3 721.1,427.5 722.4,428.6 723.8,428.1 725.2,428.6 726.5,430.0 727.9,429.7 729.3,428.4 730.6,430.1 732.0,432.5 733.4,432.1 734.7,432.3 736.1,431.7 737.5,432.1 738.8,431.8 740.2,432.6 741.6,431.8 742.9,430.7 744.3,423.4 745.7,415.5 747.0,409.6 748.4,404.5 749.8,400.1 751.1,395.5 752.5,392.6 753.9,389.4 755.3,386.4 756.6,384.2 758.0,380.7 759.4,378.3 760.7,374.6 762.1,372.4 763.5,370.1 764.8,367.6 766.2,364.1 767.6,361.9 768.9,359.1 770.3,356.7 771.7,355.0 773.0,352.4 774.4,349.7 775.8,348.9 777.1,349.1 778.5,349.4 779.9,348.8 781.2,351.0 782.6,352.7 784.0,354.8 785.3,355.6 786.7,355.3 788.1,354.8 789.5,354.7 790.8,356.0 792.2,356.6 793.6,356.5 794.9,357.3 796.3,361.9 797.7,362.3 799.0,362.1 800.4,361.8 801.8,361.9 803.1,364.7 804.5,366.4 805.9,367.7 807.2,368.2 808.6,369.4 810.0,369.6 811.3,370.3 812.7,372.2 814.1,372.5 815.4,372.7 816.8,372.6 818.2,370.5 819.5,371.3 820.9,373.2 822.3,374.3 823.7,373.9 825.0,375.0 826.4,374.1 827.8,375.4 829.1,378.4 830.5,379.7 831.9,379.8 833.2,380.5 834.6,382.5 836.0,383.1 837.3,384.1 838.7,382.6 840.1,382.3 841.4,380.7 842.8,381.2 844.2,381.2 845.5,382.3 846.9,383.3 848.3,383.7 849.6,383.1 851.0,384.0 852.4,382.8 853.7,382.8 855.1,382.6 856.5,382.2 857.9,382.3 859.2,382.6 860.6,382.5 862.0,383.1 863.3,384.3 864.7,385.6 866.1,385.2 867.4,386.3 868.8,386.5 870.2,387.1 871.5,388.6 872.9,389.7 874.3,391.2 875.6,392.3 877.0,391.7 878.4,393.7 879.7,395.5 881.1,395.9 882.5,396.4 883.8,395.9 885.2,395.0 886.6,394.7 887.9,395.1 889.3,394.7 890.7,393.2 892.1,392.6 893.4,392.7 894.8,392.7 896.2,394.5 897.5,396.4 898.9,397.4 900.3,396.9 901.6,398.5 903.0,398.0 904.4,398.2 905.7,397.7 907.1,398.8 908.5,397.8 909.8,398.1 911.2,396.8 912.6,396.5 913.9,395.4 915.3,396.3 916.7,394.9 918.0,394.4 919.4,393.1 920.8,393.5 922.1,392.6 923.5,391.0 924.9,390.9 926.3,391.0 927.6,391.2 929.0,391.0 930.4,391.9 931.7,391.8 933.1,392.1 934.5,392.7 935.8,391.9 937.2,392.6 938.6,393.2 939.9,392.7 941.3,392.0" fill="none" stroke="#C77CFF" stroke-width="2.3" stroke-linejoin="round" stroke-linecap="butt"/>
<rect x="511.05" y="116.5" width="450.55" height="333.9" fill="none" stroke="#333333" stroke-width="1.45"/>
<clipPath id="pa10"><rect x="48.75" y="462.65" width="450.2" height="333.75"/></clipPath>
<rect x="48.75" y="462.65" width="450.2" height="333.75" fill="#fff"/>
<g stroke="#EBEBEB" clip-path="url(#pa10)"><line x1="68.50" x2="68.50" y1="462.65" y2="796.4" stroke-width="1.07"/><line x1="205.30" x2="205.30" y1="462.65" y2="796.4" stroke-width="1.07"/><line x1="342.10" x2="342.10" y1="462.65" y2="796.4" stroke-width="1.07"/><line x1="478.90" x2="478.90" y1="462.65" y2="796.4" stroke-width="1.07"/><line x1="48.75" x2="498.95" y1="737.73" y2="737.73" stroke-width="1.07"/><line x1="48.75" x2="498.95" y1="649.39" y2="649.39" stroke-width="1.07"/><line x1="48.75" x2="498.95" y1="561.05" y2="561.05" stroke-width="1.07"/><line x1="48.75" x2="498.95" y1="472.71" y2="472.71" stroke-width="1.07"/><line x1="136.90" x2="136.90" y1="462.65" y2="796.4" stroke-width="2.13"/><line x1="273.70" x2="273.70" y1="462.65" y2="796.4" stroke-width="2.13"/><line x1="410.50" x2="410.50" y1="462.65" y2="796.4" stroke-width="2.13"/><line x1="48.75" x2="498.95" y1="781.90" y2="781.90" stroke-width="2.13"/><line x1="48.75" x2="498.95" y1="693.56" y2="693.56" stroke-width="2.13"/><line x1="48.75" x2="498.95" y1="605.22" y2="605.22" stroke-width="2.13"/><line x1="48.75" x2="498.95" y1="516.88" y2="516.88" stroke-width="2.13"/></g>
<polyline clip-path="url(#pa10)" points="68.5,723.9 69.9,723.6 71.2,724.2 72.6,724.2 74.0,724.4 75.3,724.9 76.7,723.8 78.1,723.5 79.4,722.6 80.8,720.3 82.2,720.5 83.5,720.3 84.9,719.6 86.3,717.8 87.7,717.2 89.0,716.2 90.4,714.6 91.8,715.1 93.1,715.4 94.5,715.5 95.9,715.0 97.2,715.8 98.6,714.5 100.0,714.1 101.3,713.9 102.7,713.0 104.1,712.8 105.4,711.7 106.8,711.1 108.2,709.9 109.5,708.7 110.9,708.7 112.3,708.9 113.6,708.2 115.0,709.2 116.4,707.7 117.7,707.0 119.1,706.9 120.5,706.0 121.9,705.2 123.2,704.7 124.6,704.3 126.0,703.6 127.3,702.9 128.7,701.8 130.1,701.8 131.4,701.4 132.8,700.5 134.2,697.8 135.5,697.4 136.9,696.0 138.3,694.7 139.6,693.2 141.0,692.2 142.4,690.9 143.7,689.5 145.1,687.9 146.5,686.4 147.8,682.9 149.2,681.1 150.6,679.8 151.9,677.5 153.3,674.2 154.7,672.9 156.1,670.3 157.4,668.3 158.8,666.4 160.2,663.6 161.5,660.5 162.9,658.1 164.3,654.7 165.6,651.3 167.0,647.9 168.4,644.1 169.7,639.7 171.1,635.6 172.5,632.2 173.8,628.8 175.2,625.9 176.6,624.8 177.9,622.2 179.3,620.5 180.7,618.5 182.0,616.6 183.4,615.6 184.8,615.2 186.1,615.5 187.5,616.9 188.9,617.2 190.3,618.6 191.6,617.7 193.0,618.3 194.4,619.5 195.7,619.6 197.1,620.5 198.5,623.8 199.8,628.2 201.2,633.9 202.6,637.8 203.9,642.7 205.3,647.0 206.7,652.1 208.0,657.2 209.4,661.4 210.8,667.4 212.1,671.7 213.5,676.7 214.9,682.5 216.2,690.3 217.6,696.0 219.0,702.3 220.3,708.8 221.7,714.9 223.1,722.0 224.5,728.0 225.8,735.1 227.2,740.2 228.6,744.2 229.9,750.1 231.3,753.9 232.7,758.4 234.0,763.7 235.4,767.2 236.8,770.9 238.1,773.0 239.5,774.7 240.9,776.5 242.2,776.8 243.6,778.1 245.0,778.5 246.3,778.2 247.7,778.8 249.1,779.0 250.4,779.0 251.8,779.8 253.2,779.5 254.5,780.1 255.9,779.6 257.3,779.9 258.7,779.9 260.0,779.3 261.4,779.4 262.8,779.4 264.1,780.2 265.5,780.2 266.9,781.3 268.2,781.9 269.6,781.2 271.0,779.7 272.3,779.9 273.7,779.8 275.1,779.1 276.4,779.5 277.8,779.0 279.2,778.8 280.5,778.1 281.9,777.7 283.3,777.5 284.6,777.7 286.0,778.1 287.4,778.3 288.7,777.8 290.1,777.5 291.5,777.3 292.9,776.3 294.2,776.6 295.6,776.7 297.0,777.0 298.3,777.0 299.7,776.9 301.1,776.7 302.4,777.5 303.8,777.4 305.2,776.9 306.5,777.8 307.9,777.0 309.3,777.5 310.6,776.0 312.0,775.9 313.4,776.0 314.7,775.9 316.1,775.6 317.5,775.8 318.8,774.4 320.2,774.4 321.6,774.7 322.9,774.1 324.3,775.1 325.7,774.4 327.1,774.5 328.4,773.7 329.8,774.2 331.2,773.9 332.5,773.6 333.9,774.8 335.3,773.9 336.6,773.3 338.0,773.1 339.4,773.1 340.7,773.0 342.1,772.7 343.5,773.0 344.8,773.2 346.2,772.2 347.6,772.3 348.9,771.7 350.3,771.4 351.7,771.6 353.0,770.7 354.4,769.8 355.8,769.9 357.1,770.4 358.5,769.3 359.9,768.6 361.3,767.9 362.6,766.5 364.0,766.9 365.4,765.8 366.7,764.4 368.1,762.6 369.5,761.9 370.8,761.6 372.2,761.7 373.6,761.1 374.9,760.4 376.3,759.6 377.7,758.0 379.0,756.0 380.4,755.4 381.8,755.6 383.1,753.7 384.5,753.3 385.9,752.1 387.2,750.0 388.6,748.6 390.0,747.2 391.3,745.4 392.7,744.3 394.1,744.0 395.5,744.5 396.8,743.7 398.2,743.2 399.6,741.8 400.9,740.3 402.3,740.5 403.7,738.3 405.0,738.3 406.4,737.9 407.8,736.0 409.1,735.7 410.5,734.6 411.9,732.6 413.2,731.8 414.6,730.1 416.0,729.8 417.3,729.2 418.7,728.4 420.1,727.6 421.4,725.8 422.8,725.0 424.2,723.7 425.5,721.9 426.9,721.7 428.3,721.2 429.7,720.3 431.0,720.9 432.4,719.5 433.8,718.3 435.1,716.7 436.5,716.1 437.9,715.4 439.2,714.1 440.6,713.2 442.0,710.9 443.3,711.2 444.7,709.1 446.1,707.3 447.4,706.1 448.8,704.0 450.2,702.5 451.5,700.4 452.9,699.4 454.3,697.9 455.6,697.9 457.0,696.5 458.4,696.7 459.7,695.0 461.1,695.2 462.5,693.5 463.9,693.3 465.2,692.3 466.6,690.9 468.0,690.9 469.3,691.1 470.7,691.3 472.1,691.7 473.4,691.6 474.8,691.2 476.2,691.5 477.5,691.7 478.9,691.4" fill="none" stroke="#F8766D" stroke-width="2.3" stroke-linejoin="round" stroke-linecap="butt"/>
<polyline clip-path="url(#pa10)" points="68.5,734.3 69.9,734.3 71.2,733.4 72.6,732.3 74.0,731.2 75.3,731.3 76.7,730.6 78.1,730.7 79.4,729.8 80.8,729.6 82.2,728.2 83.5,728.0 84.9,725.3 86.3,725.3 87.7,725.7 89.0,725.1 90.4,725.9 91.8,725.1 93.1,725.5 94.5,725.0 95.9,725.1 97.2,725.2 98.6,724.8 100.0,724.1 101.3,724.2 102.7,722.4 104.1,721.2 105.4,721.1 106.8,720.5 108.2,720.0 109.5,719.5 110.9,717.0 112.3,716.4 113.6,715.1 115.0,713.8 116.4,713.0 117.7,710.7 119.1,710.8 120.5,711.2 121.9,709.7 123.2,710.5 124.6,711.1 126.0,711.0 127.3,710.9 128.7,708.3 130.1,707.7 131.4,706.5 132.8,705.0 134.2,706.2 135.5,709.6 136.9,711.8 138.3,711.6 139.6,708.3 141.0,706.2 142.4,703.9 143.7,702.5 145.1,702.2 146.5,703.2 147.8,701.2 149.2,699.7 150.6,699.1 151.9,697.7 153.3,696.6 154.7,695.5 156.1,694.9 157.4,693.4 158.8,691.2 160.2,689.3 161.5,687.2 162.9,683.9 164.3,681.9 165.6,678.6 167.0,675.1 168.4,672.7 169.7,670.4 171.1,667.4 172.5,664.3 173.8,662.7 175.2,660.0 176.6,657.4 177.9,655.8 179.3,653.2 180.7,651.3 182.0,649.3 183.4,648.2 184.8,646.4 186.1,645.4 187.5,644.1 188.9,641.8 190.3,640.0 191.6,637.1 193.0,637.0 194.4,639.2 195.7,642.5 197.1,644.8 198.5,648.2 199.8,651.3 201.2,655.5 202.6,658.3 203.9,659.6 205.3,662.9 206.7,666.1 208.0,671.7 209.4,678.3 210.8,686.8 212.1,693.3 213.5,700.7 214.9,705.8 216.2,710.2 217.6,716.1 219.0,721.3 220.3,726.1 221.7,732.7 223.1,736.7 224.5,742.4 225.8,747.8 227.2,750.8 228.6,756.3 229.9,760.0 231.3,764.1 232.7,767.7 234.0,771.7 235.4,773.8 236.8,775.3 238.1,777.2 239.5,778.4 240.9,780.4 242.2,779.0 243.6,779.0 245.0,779.2 246.3,779.3 247.7,779.8 249.1,780.3 250.4,780.5 251.8,780.8 253.2,781.2 254.5,781.3 255.9,781.3 257.3,780.4 258.7,779.8 260.0,781.4 261.4,781.6 262.8,781.5 264.1,781.7 265.5,781.1 266.9,780.6 268.2,780.7 269.6,780.7 271.0,780.8 272.3,780.2 273.7,780.2 275.1,780.4 276.4,779.9 277.8,780.2 279.2,778.9 280.5,779.1 281.9,778.5 283.3,777.7 284.6,777.4 286.0,778.5 287.4,778.1 288.7,778.7 290.1,778.4 291.5,778.7 292.9,778.2 294.2,777.5 295.6,777.9 297.0,777.4 298.3,777.6 299.7,776.8 301.1,777.0 302.4,777.4 303.8,778.0 305.2,777.9 306.5,778.1 307.9,777.8 309.3,777.9 310.6,778.1 312.0,778.0 313.4,778.0 314.7,778.1 316.1,779.3 317.5,778.1 318.8,777.5 320.2,776.9 321.6,777.1 322.9,777.4 324.3,777.0 325.7,776.4 327.1,776.9 328.4,775.6 329.8,775.9 331.2,775.3 332.5,775.3 333.9,775.2 335.3,774.6 336.6,773.8 338.0,773.0 339.4,772.7 340.7,772.8 342.1,771.6 343.5,771.8 344.8,770.9 346.2,770.3 347.6,769.0 348.9,768.5 350.3,767.7 351.7,767.5 353.0,766.5 354.4,766.7 355.8,766.6 357.1,765.0 358.5,764.1 359.9,762.7 361.3,763.0 362.6,761.3 364.0,760.5 365.4,758.6 366.7,756.3 368.1,756.1 369.5,754.8 370.8,754.4 372.2,753.6 373.6,752.7 374.9,751.6 376.3,751.0 377.7,749.6 379.0,748.9 380.4,747.8 381.8,746.6 383.1,745.9 384.5,744.8 385.9,744.0 387.2,743.7 388.6,741.6 390.0,741.5 391.3,739.5 392.7,738.8 394.1,737.2 395.5,734.1 396.8,731.6 398.2,729.7 399.6,727.4 400.9,725.7 402.3,724.1 403.7,724.3 405.0,722.0 406.4,720.7 407.8,720.6 409.1,719.4 410.5,718.2 411.9,718.3 413.2,717.3 414.6,716.9 416.0,715.7 417.3,714.6 418.7,714.6 420.1,714.0 421.4,713.1 422.8,713.1 424.2,713.5 425.5,712.7 426.9,712.6 428.3,712.9 429.7,712.4 431.0,711.6 432.4,711.9 433.8,711.5 435.1,710.4 436.5,709.7 437.9,707.8 439.2,706.7 440.6,705.8 442.0,704.2 443.3,704.5 444.7,703.9 446.1,703.2 447.4,702.8 448.8,701.9 450.2,700.5 451.5,700.8 452.9,700.0 454.3,699.8 455.6,699.7 457.0,700.4 458.4,700.1 459.7,699.2 461.1,698.9 462.5,698.1 463.9,696.7 465.2,696.4 466.6,696.0 468.0,695.5 469.3,695.4 470.7,695.4 472.1,695.4 473.4,694.5 474.8,693.6 476.2,693.0 477.5,692.8 478.9,692.1" fill="none" stroke="#7CAE00" stroke-width="2.3" stroke-linejoin="round" stroke-linecap="butt"/>
<polyline clip-path="url(#pa10)" points="68.5,730.1 69.9,729.8 71.2,730.7 72.6,731.1 74.0,731.4 75.3,730.9 76.7,730.5 78.1,730.8 79.4,730.9 80.8,730.9 82.2,731.1 83.5,729.2 84.9,729.9 86.3,730.1 87.7,730.1 89.0,729.0 90.4,729.4 91.8,729.8 93.1,729.3 94.5,728.8 95.9,729.3 97.2,728.8 98.6,728.6 100.0,727.0 101.3,727.1 102.7,726.3 104.1,725.8 105.4,725.7 106.8,724.4 108.2,724.4 109.5,724.5 110.9,723.7 112.3,723.7 113.6,722.3 115.0,722.2 116.4,722.9 117.7,721.1 119.1,721.7 120.5,720.7 121.9,718.6 123.2,718.2 124.6,717.8 126.0,717.7 127.3,716.3 128.7,715.7 130.1,715.3 131.4,714.2 132.8,713.6 134.2,713.1 135.5,713.5 136.9,712.2 138.3,712.1 139.6,709.7 141.0,708.0 142.4,707.1 143.7,705.7 145.1,703.8 146.5,703.9 147.8,702.6 149.2,701.8 150.6,701.7 151.9,700.2 153.3,700.0 154.7,698.3 156.1,697.7 157.4,695.3 158.8,693.5 160.2,692.4 161.5,691.7 162.9,691.3 164.3,690.3 165.6,689.4 167.0,687.5 168.4,686.0 169.7,684.8 171.1,683.7 172.5,682.8 173.8,681.8 175.2,679.9 176.6,677.4 177.9,675.1 179.3,673.9 180.7,672.7 182.0,669.8 183.4,668.7 184.8,667.1 186.1,664.7 187.5,663.3 188.9,663.6 190.3,663.2 191.6,662.4 193.0,663.4 194.4,664.2 195.7,664.6 197.1,668.4 198.5,669.8 199.8,673.1 201.2,675.7 202.6,678.7 203.9,680.3 205.3,683.0 206.7,686.4 208.0,690.5 209.4,696.4 210.8,703.8 212.1,709.1 213.5,715.3 214.9,719.9 216.2,725.1 217.6,729.8 219.0,734.7 220.3,739.0 221.7,742.7 223.1,746.2 224.5,750.1 225.8,753.1 227.2,756.1 228.6,760.0 229.9,763.6 231.3,767.2 232.7,769.7 234.0,772.3 235.4,774.2 236.8,776.5 238.1,777.3 239.5,777.7 240.9,779.3 242.2,778.8 243.6,779.4 245.0,779.7 246.3,780.9 247.7,780.4 249.1,781.5 250.4,781.3 251.8,781.2 253.2,780.9 254.5,781.6 255.9,781.5 257.3,781.3 258.7,781.5 260.0,780.8 261.4,781.2 262.8,781.3 264.1,781.4 265.5,780.9 266.9,780.4 268.2,781.5 269.6,779.9 271.0,781.0 272.3,780.0 273.7,778.9 275.1,777.7 276.4,777.7 277.8,777.3 279.2,777.3 280.5,777.8 281.9,777.9 283.3,777.9 284.6,778.0 286.0,776.8 287.4,776.6 288.7,776.0 290.1,776.2 291.5,776.1 292.9,776.1 294.2,775.5 295.6,775.4 297.0,774.9 298.3,774.7 299.7,774.4 301.1,774.4 302.4,774.0 303.8,774.6 305.2,773.6 306.5,773.2 307.9,773.6 309.3,773.8 310.6,773.1 312.0,772.6 313.4,773.3 314.7,772.9 316.1,773.0 317.5,774.7 318.8,773.6 320.2,773.0 321.6,773.3 322.9,772.9 324.3,774.0 325.7,772.8 327.1,772.8 328.4,773.4 329.8,773.1 331.2,773.9 332.5,772.3 333.9,772.2 335.3,772.5 336.6,772.5 338.0,772.7 339.4,772.2 340.7,772.9 342.1,771.6 343.5,771.4 344.8,770.8 346.2,769.3 347.6,768.5 348.9,767.7 350.3,766.6 351.7,765.4 353.0,764.6 354.4,763.3 355.8,762.8 357.1,760.5 358.5,760.2 359.9,758.5 361.3,756.5 362.6,754.3 364.0,752.1 365.4,751.5 366.7,749.9 368.1,749.4 369.5,747.8 370.8,747.0 372.2,744.4 373.6,742.9 374.9,740.8 376.3,739.9 377.7,739.2 379.0,737.6 380.4,736.9 381.8,736.9 383.1,736.3 384.5,736.6 385.9,734.6 387.2,735.1 388.6,733.8 390.0,732.0 391.3,731.3 392.7,731.8 394.1,730.6 395.5,730.4 396.8,730.3 398.2,729.1 399.6,728.4 400.9,727.1 402.3,727.4 403.7,728.3 405.0,729.1 406.4,728.9 407.8,730.5 409.1,730.3 410.5,730.0 411.9,730.5 413.2,728.5 414.6,729.0 416.0,726.9 417.3,726.1 418.7,723.4 420.1,721.3 421.4,720.7 422.8,719.9 424.2,718.9 425.5,717.8 426.9,715.4 428.3,714.6 429.7,713.8 431.0,712.7 432.4,711.5 433.8,710.2 435.1,709.4 436.5,707.7 437.9,705.3 439.2,703.6 440.6,703.3 442.0,700.3 443.3,698.9 444.7,696.2 446.1,694.4 447.4,694.2 448.8,693.5 450.2,693.5 451.5,693.1 452.9,691.3 454.3,691.0 455.6,690.2 457.0,688.6 458.4,687.3 459.7,687.3 461.1,685.7 462.5,685.5 463.9,685.3 465.2,685.4 466.6,685.5 468.0,686.4 469.3,687.1 470.7,686.9 472.1,686.8 473.4,687.2 474.8,686.5 476.2,686.8 477.5,688.0 478.9,688.9" fill="none" stroke="#00BFC4" stroke-width="2.3" stroke-linejoin="round" stroke-linecap="butt"/>
<polyline clip-path="url(#pa10)" points="68.5,733.1 69.9,732.3 71.2,732.4 72.6,732.0 74.0,732.1 75.3,733.1 76.7,732.9 78.1,735.2 79.4,734.9 80.8,735.5 82.2,733.4 83.5,732.2 84.9,730.6 86.3,731.8 87.7,733.8 89.0,736.6 90.4,739.4 91.8,740.9 93.1,739.1 94.5,737.2 95.9,734.7 97.2,733.8 98.6,734.6 100.0,732.7 101.3,733.1 102.7,732.6 104.1,733.0 105.4,732.4 106.8,732.7 108.2,729.5 109.5,728.5 110.9,726.8 112.3,725.3 113.6,725.0 115.0,725.3 116.4,725.1 117.7,726.0 119.1,727.7 120.5,727.8 121.9,728.1 123.2,727.7 124.6,726.9 126.0,726.0 127.3,726.9 128.7,728.1 130.1,729.2 131.4,730.8 132.8,731.4 134.2,731.6 135.5,730.9 136.9,731.2 138.3,732.0 139.6,730.9 141.0,731.5 142.4,731.4 143.7,732.5 145.1,733.9 146.5,733.9 147.8,733.6 149.2,732.7 150.6,731.6 151.9,730.8 153.3,727.2 154.7,726.7 156.1,725.6 157.4,725.3 158.8,723.7 160.2,721.4 161.5,720.7 162.9,717.3 164.3,715.9 165.6,713.8 167.0,712.2 168.4,710.3 169.7,708.9 171.1,707.4 172.5,705.7 173.8,704.9 175.2,703.1 176.6,702.1 177.9,701.2 179.3,700.9 180.7,700.0 182.0,699.8 183.4,699.8 184.8,699.6 186.1,698.8 187.5,699.3 188.9,697.7 190.3,698.1 191.6,698.0 193.0,699.5 194.4,699.4 195.7,702.4 197.1,704.0 198.5,707.1 199.8,711.6 201.2,714.9 202.6,715.0 203.9,714.7 205.3,715.6 206.7,717.4 208.0,718.1 209.4,721.4 210.8,724.5 212.1,728.7 213.5,730.6 214.9,734.3 216.2,736.5 217.6,738.9 219.0,742.1 220.3,744.5 221.7,746.4 223.1,750.7 224.5,754.1 225.8,757.2 227.2,760.8 228.6,763.7 229.9,765.8 231.3,768.1 232.7,770.5 234.0,773.4 235.4,775.5 236.8,777.5 238.1,777.9 239.5,779.6 240.9,780.4 242.2,780.3 243.6,781.2 245.0,781.9 246.3,782.0 247.7,781.2 249.1,782.2 250.4,781.6 251.8,781.2 253.2,781.2 254.5,781.9 255.9,782.7 257.3,782.2 258.7,781.4 260.0,781.5 261.4,782.1 262.8,782.9 264.1,783.3 265.5,781.5 266.9,781.7 268.2,781.3 269.6,781.5 271.0,780.8 272.3,778.2 273.7,776.9 275.1,776.4 276.4,776.6 277.8,776.0 279.2,776.1 280.5,775.6 281.9,775.7 283.3,776.1 284.6,775.8 286.0,775.2 287.4,775.2 288.7,775.0 290.1,774.0 291.5,774.6 292.9,774.3 294.2,773.3 295.6,773.4 297.0,773.0 298.3,773.5 299.7,773.4 301.1,772.8 302.4,772.7 303.8,773.6 305.2,773.1 306.5,772.8 307.9,772.5 309.3,772.7 310.6,771.5 312.0,772.2 313.4,771.5 314.7,772.2 316.1,772.4 317.5,771.3 318.8,772.2 320.2,772.5 321.6,772.3 322.9,771.8 324.3,770.0 325.7,768.8 327.1,768.5 328.4,767.9 329.8,766.9 331.2,765.9 332.5,767.1 333.9,766.3 335.3,765.7 336.6,764.7 338.0,764.2 339.4,763.7 340.7,762.7 342.1,763.2 343.5,762.3 344.8,762.0 346.2,761.3 347.6,761.2 348.9,760.6 350.3,760.2 351.7,759.3 353.0,758.6 354.4,757.9 355.8,756.6 357.1,755.9 358.5,754.1 359.9,752.7 361.3,752.2 362.6,751.7 364.0,749.6 365.4,748.3 366.7,746.7 368.1,746.0 369.5,745.4 370.8,744.7 372.2,744.6 373.6,744.2 374.9,743.0 376.3,741.6 377.7,740.2 379.0,737.7 380.4,735.7 381.8,734.0 383.1,731.4 384.5,730.3 385.9,728.3 387.2,727.5 388.6,726.4 390.0,725.2 391.3,725.2 392.7,723.7 394.1,723.0 395.5,722.0 396.8,720.8 398.2,720.8 399.6,719.7 400.9,719.9 402.3,719.3 403.7,719.6 405.0,719.6 406.4,719.7 407.8,720.4 409.1,721.8 410.5,722.9 411.9,721.9 413.2,721.7 414.6,721.0 416.0,722.0 417.3,721.3 418.7,720.9 420.1,720.6 421.4,719.5 422.8,718.9 424.2,718.2 425.5,717.4 426.9,716.5 428.3,716.4 429.7,716.8 431.0,716.6 432.4,715.3 433.8,716.2 435.1,716.5 436.5,715.7 437.9,715.5 439.2,714.5 440.6,715.0 442.0,713.8 443.3,713.1 444.7,712.7 446.1,713.5 447.4,712.0 448.8,711.6 450.2,712.1 451.5,712.1 452.9,713.0 454.3,712.5 455.6,712.9 457.0,713.7 458.4,714.2 459.7,714.5 461.1,715.4 462.5,714.8 463.9,715.1 465.2,715.1 466.6,714.8 468.0,712.6 469.3,709.7 470.7,707.0 472.1,706.2 473.4,705.5 474.8,705.8 476.2,704.7 477.5,705.2 478.9,703.9" fill="none" stroke="#C77CFF" stroke-width="2.3" stroke-linejoin="round" stroke-linecap="butt"/>
<rect x="48.75" y="462.65" width="450.2" height="333.75" fill="none" stroke="#333333" stroke-width="1.45"/>
<clipPath id="pa11"><rect x="511.05" y="462.65" width="450.55" height="333.75"/></clipPath>
<rect x="511.05" y="462.65" width="450.55" height="333.75" fill="#fff"/>
<g stroke="#EBEBEB" clip-path="url(#pa11)"><line x1="530.90" x2="530.90" y1="462.65" y2="796.4" stroke-width="1.07"/><line x1="667.70" x2="667.70" y1="462.65" y2="796.4" stroke-width="1.07"/><line x1="804.50" x2="804.50" y1="462.65" y2="796.4" stroke-width="1.07"/><line x1="941.30" x2="941.30" y1="462.65" y2="796.4" stroke-width="1.07"/><line x1="511.05" x2="961.6" y1="737.73" y2="737.73" stroke-width="1.07"/><line x1="511.05" x2="961.6" y1="649.39" y2="649.39" stroke-width="1.07"/><line x1="511.05" x2="961.6" y1="561.05" y2="561.05" stroke-width="1.07"/><line x1="511.05" x2="961.6" y1="472.71" y2="472.71" stroke-width="1.07"/><line x1="599.30" x2="599.30" y1="462.65" y2="796.4" stroke-width="2.13"/><line x1="736.10" x2="736.10" y1="462.65" y2="796.4" stroke-width="2.13"/><line x1="872.90" x2="872.90" y1="462.65" y2="796.4" stroke-width="2.13"/><line x1="511.05" x2="961.6" y1="781.90" y2="781.90" stroke-width="2.13"/><line x1="511.05" x2="961.6" y1="693.56" y2="693.56" stroke-width="2.13"/><line x1="511.05" x2="961.6" y1="605.22" y2="605.22" stroke-width="2.13"/><line x1="511.05" x2="961.6" y1="516.88" y2="516.88" stroke-width="2.13"/></g>
<polyline clip-path="url(#pa11)" points="530.9,728.4 532.3,729.5 533.6,731.5 535.0,732.2 536.4,733.6 537.7,734.1 539.1,735.9 540.5,736.0 541.8,737.3 543.2,736.7 544.6,737.8 545.9,739.2 547.3,739.3 548.7,740.5 550.1,740.7 551.4,743.2 552.8,743.8 554.2,744.4 555.5,745.0 556.9,745.6 558.3,747.0 559.6,747.9 561.0,748.5 562.4,750.0 563.7,751.7 565.1,752.6 566.5,753.4 567.8,754.6 569.2,755.0 570.6,756.0 571.9,756.4 573.3,757.9 574.7,759.3 576.0,759.3 577.4,760.4 578.8,762.1 580.1,762.4 581.5,763.3 582.9,763.5 584.3,764.1 585.6,765.0 587.0,765.2 588.4,765.4 589.7,767.3 591.1,767.4 592.5,768.6 593.8,769.0 595.2,769.3 596.6,769.9 597.9,770.5 599.3,770.7 600.7,772.4 602.0,771.8 603.4,772.6 604.8,773.7 606.1,773.0 607.5,773.9 608.9,773.5 610.2,774.2 611.6,774.2 613.0,774.6 614.3,774.6 615.7,774.7 617.1,775.1 618.5,774.3 619.8,774.8 621.2,776.0 622.6,775.8 623.9,775.8 625.3,775.8 626.7,776.5 628.0,776.9 629.4,777.4 630.8,777.7 632.1,778.4 633.5,777.6 634.9,776.9 636.2,778.0 637.6,778.2 639.0,778.2 640.3,777.4 641.7,778.5 643.1,778.3 644.4,778.4 645.8,778.0 647.2,778.9 648.5,778.9 649.9,779.6 651.3,779.0 652.7,778.6 654.0,779.2 655.4,778.7 656.8,779.0 658.1,777.9 659.5,778.0 660.9,777.7 662.2,777.8 663.6,777.7 665.0,777.9 666.3,778.4 667.7,778.4 669.1,778.6 670.4,778.3 671.8,777.4 673.2,778.2 674.5,778.9 675.9,778.6 677.3,779.0 678.6,779.1 680.0,778.8 681.4,778.1 682.7,778.8 684.1,778.7 685.5,778.8 686.9,779.0 688.2,779.5 689.6,779.7 691.0,780.0 692.3,780.1 693.7,780.0 695.1,779.0 696.4,778.5 697.8,778.6 699.2,778.3 700.5,777.6 701.9,778.5 703.3,777.6 704.6,779.3 706.0,779.0 707.4,778.9 708.7,778.4 710.1,778.2 711.5,778.7 712.8,779.1 714.2,778.8 715.6,778.9 716.9,778.1 718.3,777.7 719.7,777.0 721.1,776.7 722.4,777.3 723.8,776.5 725.2,776.0 726.5,775.3 727.9,774.1 729.3,772.4 730.6,771.8 732.0,770.9 733.4,765.0 734.7,756.9 736.1,750.8 737.5,741.4 738.8,732.2 740.2,723.9 741.6,714.9 742.9,703.5 744.3,691.6 745.7,677.0 747.0,664.1 748.4,652.0 749.8,612.4 751.1,593.4 752.5,584.6 753.9,575.6 755.3,563.8 756.6,552.5 758.0,542.6 759.4,532.6 760.7,524.4 762.1,516.5 763.5,508.7 764.8,501.7 766.2,494.5 767.6,489.3 768.9,483.4 770.3,480.5 771.7,478.1 773.0,476.8 774.4,476.8 775.8,480.0 777.1,481.1 778.5,485.3 779.9,490.5 781.2,497.4 782.6,503.3 784.0,511.7 785.3,519.0 786.7,527.7 788.1,535.6 789.5,544.5 790.8,552.0 792.2,559.6 793.6,567.7 794.9,574.6 796.3,581.7 797.7,589.3 799.0,594.6 800.4,602.2 801.8,608.3 803.1,614.8 804.5,621.5 805.9,627.2 807.2,632.2 808.6,637.6 810.0,643.0 811.3,647.1 812.7,650.2 814.1,653.1 815.4,656.6 816.8,660.4 818.2,664.4 819.5,667.2 820.9,669.7 822.3,672.7 823.7,674.4 825.0,676.8 826.4,679.0 827.8,682.4 829.1,683.1 830.5,686.0 831.9,687.8 833.2,689.6 834.6,692.7 836.0,694.4 837.3,696.2 838.7,696.9 840.1,698.7 841.4,699.8 842.8,701.6 844.2,702.7 845.5,703.2 846.9,704.1 848.3,705.7 849.6,706.8 851.0,708.1 852.4,708.3 853.7,710.7 855.1,712.0 856.5,712.8 857.9,713.5 859.2,714.2 860.6,714.1 862.0,715.4 863.3,715.9 864.7,717.5 866.1,719.4 867.4,719.7 868.8,720.6 870.2,721.2 871.5,721.0 872.9,722.2 874.3,721.6 875.6,722.1 877.0,722.5 878.4,722.4 879.7,722.6 881.1,722.1 882.5,723.0 883.8,723.6 885.2,725.7 886.6,726.5 887.9,726.5 889.3,727.8 890.7,727.8 892.1,727.7 893.4,728.6 894.8,729.7 896.2,729.9 897.5,730.5 898.9,731.0 900.3,731.1 901.6,732.0 903.0,732.3 904.4,732.6 905.7,733.8 907.1,735.1 908.5,735.8 909.8,735.7 911.2,736.1 912.6,737.9 913.9,738.7 915.3,739.2 916.7,739.4 918.0,738.5 919.4,738.7 920.8,738.5 922.1,738.4 923.5,739.8 924.9,739.3 926.3,738.0 927.6,738.4 929.0,737.2 930.4,737.4 931.7,736.5 933.1,736.7 934.5,736.7 935.8,736.9 937.2,736.7 938.6,737.3 939.9,737.8 941.3,738.4" fill="none" stroke="#F8766D" stroke-width="2.3" stroke-linejoin="round" stroke-linecap="butt"/>
<polyline clip-path="url(#pa11)" points="530.9,730.1 532.3,730.5 533.6,732.3 535.0,732.5 536.4,734.3 537.7,734.5 539.1,734.0 540.5,734.5 541.8,735.0 543.2,735.7 544.6,736.6 545.9,736.6 547.3,737.2 548.7,736.5 550.1,736.3 551.4,738.3 552.8,739.8 554.2,740.8 555.5,741.6 556.9,743.0 558.3,744.2 559.6,744.0 561.0,744.4 562.4,744.9 563.7,746.7 565.1,746.9 566.5,748.3 567.8,749.6 569.2,750.2 570.6,749.9 571.9,751.1 573.3,751.5 574.7,751.9 576.0,752.9 577.4,753.5 578.8,754.7 580.1,755.4 581.5,756.5 582.9,756.7 584.3,757.9 585.6,758.1 587.0,759.1 588.4,759.4 589.7,759.7 591.1,760.1 592.5,760.4 593.8,761.1 595.2,761.1 596.6,763.3 597.9,763.4 599.3,764.6 600.7,765.5 602.0,767.4 603.4,767.9 604.8,769.8 606.1,771.4 607.5,772.5 608.9,772.8 610.2,772.6 611.6,771.8 613.0,773.2 614.3,773.3 615.7,773.4 617.1,773.0 618.5,772.9 619.8,772.9 621.2,774.5 622.6,775.2 623.9,774.9 625.3,776.1 626.7,776.0 628.0,776.6 629.4,776.7 630.8,777.4 632.1,777.3 633.5,777.2 634.9,776.2 636.2,777.4 637.6,777.0 639.0,776.5 640.3,777.2 641.7,776.6 643.1,778.0 644.4,778.8 645.8,778.3 647.2,778.9 648.5,778.4 649.9,778.2 651.3,777.6 652.7,778.5 654.0,778.1 655.4,777.6 656.8,776.8 658.1,777.2 659.5,776.9 660.9,777.0 662.2,777.0 663.6,776.2 665.0,776.3 666.3,776.2 667.7,776.6 669.1,776.5 670.4,776.9 671.8,776.7 673.2,775.7 674.5,775.6 675.9,775.4 677.3,775.2 678.6,776.5 680.0,777.3 681.4,776.6 682.7,775.6 684.1,776.2 685.5,776.0 686.9,777.1 688.2,776.1 689.6,776.0 691.0,776.0 692.3,776.6 693.7,776.2 695.1,775.9 696.4,776.0 697.8,775.7 699.2,776.7 700.5,776.0 701.9,776.4 703.3,776.2 704.6,775.9 706.0,777.7 707.4,776.2 708.7,777.9 710.1,776.5 711.5,777.4 712.8,778.3 714.2,776.9 715.6,777.3 716.9,778.5 718.3,777.5 719.7,776.9 721.1,776.7 722.4,775.9 723.8,774.7 725.2,773.6 726.5,771.2 727.9,770.4 729.3,769.7 730.6,767.9 732.0,759.7 733.4,747.0 734.7,736.4 736.1,736.0 737.5,735.9 738.8,716.8 740.2,693.5 741.6,678.7 742.9,668.4 744.3,660.6 745.7,652.2 747.0,641.8 748.4,622.5 749.8,600.6 751.1,587.1 752.5,575.9 753.9,566.3 755.3,558.3 756.6,549.1 758.0,541.2 759.4,532.9 760.7,525.6 762.1,517.2 763.5,511.5 764.8,506.9 766.2,505.2 767.6,503.4 768.9,501.1 770.3,496.7 771.7,495.2 773.0,494.0 774.4,497.5 775.8,503.3 777.1,508.8 778.5,514.6 779.9,520.2 781.2,527.7 782.6,534.5 784.0,541.1 785.3,548.7 786.7,556.8 788.1,563.9 789.5,571.4 790.8,579.6 792.2,585.1 793.6,591.4 794.9,597.2 796.3,603.4 797.7,610.5 799.0,617.3 800.4,623.6 801.8,630.5 803.1,637.3 804.5,643.1 805.9,647.8 807.2,651.0 808.6,654.3 810.0,657.9 811.3,661.1 812.7,665.2 814.1,668.5 815.4,671.7 816.8,675.2 818.2,678.4 819.5,681.2 820.9,683.7 822.3,685.3 823.7,686.9 825.0,689.9 826.4,692.0 827.8,693.5 829.1,695.2 830.5,696.1 831.9,696.9 833.2,698.5 834.6,700.8 836.0,701.7 837.3,702.5 838.7,702.4 840.1,702.8 841.4,703.8 842.8,703.4 844.2,703.9 845.5,704.5 846.9,705.3 848.3,707.4 849.6,708.7 851.0,710.7 852.4,711.6 853.7,713.9 855.1,713.7 856.5,714.4 857.9,716.0 859.2,716.0 860.6,717.1 862.0,717.2 863.3,718.5 864.7,719.2 866.1,720.6 867.4,720.9 868.8,721.5 870.2,722.7 871.5,724.0 872.9,724.9 874.3,726.1 875.6,726.1 877.0,725.7 878.4,725.1 879.7,726.2 881.1,726.0 882.5,727.2 883.8,727.4 885.2,727.6 886.6,728.3 887.9,729.1 889.3,730.6 890.7,729.9 892.1,730.1 893.4,730.8 894.8,730.6 896.2,731.1 897.5,730.4 898.9,731.2 900.3,733.5 901.6,732.5 903.0,732.8 904.4,733.3 905.7,734.1 907.1,733.2 908.5,733.7 909.8,733.9 911.2,734.8 912.6,734.8 913.9,734.3 915.3,733.4 916.7,732.1 918.0,733.3 919.4,733.4 920.8,735.5 922.1,738.2 923.5,738.6 924.9,740.0 926.3,740.3 927.6,741.4 929.0,741.9 930.4,742.3 931.7,743.6 933.1,743.5 934.5,743.8 935.8,744.9 937.2,746.0 938.6,745.8 939.9,747.1 941.3,747.5" fill="none" stroke="#7CAE00" stroke-width="2.3" stroke-linejoin="round" stroke-linecap="butt"/>
<polyline clip-path="url(#pa11)" points="530.9,728.7 532.3,729.3 533.6,730.1 535.0,731.0 536.4,732.3 537.7,732.9 539.1,733.7 540.5,734.5 541.8,735.8 543.2,737.4 544.6,738.2 545.9,738.9 547.3,738.3 548.7,737.7 550.1,738.3 551.4,738.3 552.8,738.3 554.2,738.6 555.5,739.0 556.9,739.3 558.3,738.9 559.6,739.9 561.0,740.4 562.4,740.0 563.7,741.2 565.1,741.5 566.5,742.6 567.8,743.0 569.2,744.0 570.6,744.8 571.9,744.4 573.3,745.6 574.7,745.6 576.0,745.1 577.4,747.4 578.8,748.5 580.1,749.8 581.5,750.7 582.9,751.1 584.3,751.7 585.6,753.1 587.0,754.2 588.4,756.3 589.7,757.2 591.1,757.2 592.5,757.7 593.8,758.2 595.2,758.6 596.6,758.9 597.9,759.4 599.3,760.9 600.7,761.2 602.0,761.6 603.4,763.6 604.8,766.0 606.1,768.2 607.5,769.1 608.9,769.5 610.2,769.3 611.6,770.4 613.0,770.6 614.3,770.8 615.7,770.8 617.1,771.3 618.5,771.1 619.8,770.9 621.2,771.7 622.6,771.3 623.9,772.4 625.3,772.8 626.7,772.7 628.0,773.4 629.4,773.7 630.8,772.7 632.1,774.0 633.5,775.5 634.9,774.5 636.2,775.3 637.6,775.0 639.0,775.9 640.3,775.5 641.7,775.9 643.1,776.2 644.4,775.9 645.8,775.8 647.2,775.9 648.5,777.1 649.9,777.7 651.3,778.3 652.7,777.6 654.0,777.8 655.4,779.1 656.8,778.7 658.1,778.3 659.5,778.0 660.9,778.0 662.2,777.3 663.6,778.3 665.0,777.2 666.3,777.2 667.7,778.1 669.1,776.5 670.4,777.6 671.8,776.8 673.2,777.2 674.5,777.5 675.9,777.5 677.3,777.9 678.6,777.8 680.0,778.3 681.4,777.8 682.7,777.8 684.1,776.9 685.5,777.7 686.9,777.0 688.2,778.2 689.6,777.7 691.0,777.5 692.3,777.6 693.7,776.7 695.1,775.5 696.4,776.2 697.8,774.7 699.2,776.1 700.5,776.2 701.9,776.2 703.3,776.9 704.6,776.3 706.0,776.8 707.4,775.6 708.7,776.7 710.1,776.4 711.5,775.5 712.8,775.3 714.2,776.0 715.6,775.3 716.9,775.8 718.3,775.1 719.7,773.8 721.1,773.4 722.4,772.4 723.8,771.2 725.2,770.9 726.5,771.0 727.9,770.7 729.3,769.6 730.6,769.6 732.0,767.3 733.4,760.9 734.7,754.0 736.1,753.6 737.5,754.0 738.8,745.2 740.2,732.3 741.6,718.0 742.9,707.2 744.3,698.6 745.7,688.3 747.0,679.3 748.4,671.4 749.8,662.7 751.1,654.0 752.5,647.5 753.9,638.4 755.3,619.4 756.6,612.1 758.0,605.5 759.4,600.1 760.7,593.0 762.1,587.6 763.5,582.8 764.8,579.8 766.2,576.6 767.6,572.5 768.9,569.3 770.3,568.8 771.7,567.1 773.0,566.8 774.4,566.6 775.8,567.6 777.1,568.6 778.5,570.5 779.9,573.7 781.2,578.3 782.6,584.0 784.0,588.9 785.3,593.4 786.7,598.1 788.1,603.6 789.5,608.9 790.8,613.8 792.2,618.0 793.6,623.1 794.9,627.1 796.3,630.1 797.7,634.2 799.0,637.4 800.4,640.9 801.8,643.9 803.1,648.2 804.5,652.4 805.9,657.3 807.2,660.4 808.6,664.9 810.0,668.8 811.3,673.3 812.7,677.8 814.1,681.0 815.4,684.7 816.8,690.0 818.2,692.9 819.5,695.5 820.9,698.7 822.3,701.4 823.7,702.4 825.0,705.3 826.4,707.7 827.8,708.8 829.1,710.3 830.5,711.8 831.9,711.9 833.2,712.6 834.6,714.5 836.0,717.1 837.3,720.6 838.7,722.0 840.1,724.5 841.4,724.1 842.8,724.8 844.2,724.1 845.5,724.4 846.9,725.3 848.3,726.2 849.6,727.2 851.0,727.3 852.4,727.8 853.7,728.1 855.1,728.2 856.5,727.7 857.9,728.1 859.2,727.9 860.6,728.5 862.0,728.7 863.3,729.2 864.7,729.0 866.1,729.3 867.4,729.3 868.8,729.8 870.2,730.1 871.5,730.6 872.9,730.2 874.3,732.2 875.6,731.1 877.0,731.9 878.4,732.5 879.7,731.8 881.1,733.5 882.5,734.7 883.8,733.5 885.2,735.1 886.6,734.8 887.9,735.1 889.3,735.6 890.7,735.1 892.1,736.5 893.4,736.5 894.8,736.7 896.2,737.4 897.5,738.5 898.9,737.4 900.3,737.8 901.6,738.3 903.0,738.3 904.4,739.2 905.7,740.1 907.1,740.9 908.5,742.3 909.8,743.1 911.2,744.6 912.6,743.3 913.9,744.1 915.3,744.0 916.7,743.4 918.0,742.4 919.4,742.1 920.8,742.0 922.1,741.6 923.5,740.5 924.9,740.1 926.3,740.3 927.6,740.4 929.0,739.7 930.4,739.6 931.7,739.2 933.1,740.1 934.5,739.0 935.8,738.4 937.2,738.6 938.6,738.4 939.9,737.4 941.3,735.7" fill="none" stroke="#00BFC4" stroke-width="2.3" stroke-linejoin="round" stroke-linecap="butt"/>
<polyline clip-path="url(#pa11)" points="530.9,723.0 532.3,726.1 533.6,727.4 535.0,729.7 536.4,731.6 537.7,732.7 539.1,732.7 540.5,733.2 541.8,732.7 543.2,733.6 544.6,732.6 545.9,731.2 547.3,730.0 548.7,728.2 550.1,728.6 551.4,728.3 552.8,727.8 554.2,729.2 555.5,731.0 556.9,731.3 558.3,732.4 559.6,732.8 561.0,733.3 562.4,734.3 563.7,735.5 565.1,737.1 566.5,737.6 567.8,737.9 569.2,739.4 570.6,740.0 571.9,740.8 573.3,742.4 574.7,742.5 576.0,742.9 577.4,744.8 578.8,744.6 580.1,746.7 581.5,746.8 582.9,748.3 584.3,749.2 585.6,750.3 587.0,751.0 588.4,753.1 589.7,754.0 591.1,754.2 592.5,754.8 593.8,755.6 595.2,755.4 596.6,756.5 597.9,756.5 599.3,757.5 600.7,757.5 602.0,758.0 603.4,757.5 604.8,757.5 606.1,758.7 607.5,758.3 608.9,760.0 610.2,759.6 611.6,760.3 613.0,761.3 614.3,761.7 615.7,762.5 617.1,761.9 618.5,763.0 619.8,763.3 621.2,764.1 622.6,764.4 623.9,766.6 625.3,766.8 626.7,766.4 628.0,766.1 629.4,766.7 630.8,768.3 632.1,768.7 633.5,769.2 634.9,770.0 636.2,770.2 637.6,771.0 639.0,772.1 640.3,772.7 641.7,773.4 643.1,773.0 644.4,773.8 645.8,773.6 647.2,773.9 648.5,774.1 649.9,774.7 651.3,775.5 652.7,776.4 654.0,775.6 655.4,775.0 656.8,775.7 658.1,776.2 659.5,776.1 660.9,776.3 662.2,775.7 663.6,775.9 665.0,776.9 666.3,776.9 667.7,776.9 669.1,776.7 670.4,776.6 671.8,777.5 673.2,777.5 674.5,777.5 675.9,777.9 677.3,777.3 678.6,777.5 680.0,776.2 681.4,776.5 682.7,775.9 684.1,776.1 685.5,776.0 686.9,776.1 688.2,776.6 689.6,776.0 691.0,776.6 692.3,777.0 693.7,776.2 695.1,776.2 696.4,776.9 697.8,777.3 699.2,777.6 700.5,777.9 701.9,777.4 703.3,778.0 704.6,778.2 706.0,777.2 707.4,776.9 708.7,776.3 710.1,777.2 711.5,778.1 712.8,777.1 714.2,778.1 715.6,778.1 716.9,778.6 718.3,779.3 719.7,779.3 721.1,779.3 722.4,779.4 723.8,779.9 725.2,780.3 726.5,781.1 727.9,781.0 729.3,780.1 730.6,780.7 732.0,780.0 733.4,778.0 734.7,778.3 736.1,777.6 737.5,777.6 738.8,778.2 740.2,776.2 741.6,761.1 742.9,746.9 744.3,733.9 745.7,722.0 747.0,711.9 748.4,701.1 749.8,690.5 751.1,681.9 752.5,673.6 753.9,665.9 755.3,655.7 756.6,649.2 758.0,643.7 759.4,638.4 760.7,631.9 762.1,623.4 763.5,617.5 764.8,613.4 766.2,608.9 767.6,605.0 768.9,601.0 770.3,596.8 771.7,593.4 773.0,590.5 774.4,591.5 775.8,594.7 777.1,597.4 778.5,600.1 779.9,603.3 781.2,606.3 782.6,610.1 784.0,615.9 785.3,622.3 786.7,626.7 788.1,630.5 789.5,635.1 790.8,639.1 792.2,642.5 793.6,646.8 794.9,649.2 796.3,652.4 797.7,657.1 799.0,662.5 800.4,665.8 801.8,667.7 803.1,670.5 804.5,672.8 805.9,676.0 807.2,681.1 808.6,686.7 810.0,691.5 811.3,695.1 812.7,698.5 814.1,699.6 815.4,702.5 816.8,704.2 818.2,706.6 819.5,707.9 820.9,711.6 822.3,712.0 823.7,713.3 825.0,715.1 826.4,716.2 827.8,718.0 829.1,718.4 830.5,719.8 831.9,720.9 833.2,722.6 834.6,723.8 836.0,725.3 837.3,726.1 838.7,726.1 840.1,726.5 841.4,728.1 842.8,727.4 844.2,728.3 845.5,727.6 846.9,728.1 848.3,727.6 849.6,728.5 851.0,728.8 852.4,728.9 853.7,729.6 855.1,729.3 856.5,729.2 857.9,728.5 859.2,728.7 860.6,728.3 862.0,727.9 863.3,728.6 864.7,729.2 866.1,729.4 867.4,730.9 868.8,731.0 870.2,731.9 871.5,731.6 872.9,732.1 874.3,732.6 875.6,732.2 877.0,733.3 878.4,733.7 879.7,733.5 881.1,734.0 882.5,734.0 883.8,735.3 885.2,735.3 886.6,735.6 887.9,736.9 889.3,736.5 890.7,736.4 892.1,738.4 893.4,738.6 894.8,738.4 896.2,740.8 897.5,741.7 898.9,742.0 900.3,742.7 901.6,742.3 903.0,742.7 904.4,742.2 905.7,742.4 907.1,742.8 908.5,742.1 909.8,742.1 911.2,742.0 912.6,743.6 913.9,743.8 915.3,744.8 916.7,744.4 918.0,744.9 919.4,744.7 920.8,745.9 922.1,744.9 923.5,745.5 924.9,746.5 926.3,745.0 927.6,743.9 929.0,743.9 930.4,743.9 931.7,744.1 933.1,743.2 934.5,744.0 935.8,742.7 937.2,744.6 938.6,744.5 939.9,745.1 941.3,746.1" fill="none" stroke="#C77CFF" stroke-width="2.3" stroke-linejoin="round" stroke-linecap="butt"/>
<rect x="511.05" y="462.65" width="450.55" height="333.75" fill="none" stroke="#333333" stroke-width="1.45"/>
<rect x="48.75" y="80.6" width="450.2" height="35.150000000000006" fill="#D9D9D9" stroke="#333333" stroke-width="1.45"/>
<rect x="511.05" y="80.6" width="450.55" height="35.150000000000006" fill="#D9D9D9" stroke="#333333" stroke-width="1.45"/>
<rect x="962.3" y="116.5" width="35.0" height="333.9" fill="#D9D9D9" stroke="#333333" stroke-width="1.45"/>
<rect x="962.3" y="462.65" width="35.0" height="333.75" fill="#D9D9D9" stroke="#333333" stroke-width="1.45"/>
<text x="233.9" y="104.2" font-size="18.3" fill="#1A1A1A" stroke="#1A1A1A" stroke-width="0.3" text-anchor="start" font-weight="normal">3’ Splice site</text>
<text x="684.6" y="104.2" font-size="18.3" fill="#1A1A1A" stroke="#1A1A1A" stroke-width="0.3" text-anchor="start" font-weight="normal">5’ Splice site</text>
<text x="973.0" y="283.5" font-size="18.25" fill="#1A1A1A" stroke="#1A1A1A" stroke-width="0.3" text-anchor="middle" font-weight="normal" transform="rotate(90 973.0 283.5)">Template</text>
<text x="973.0" y="629.8" font-size="18.25" fill="#1A1A1A" stroke="#1A1A1A" stroke-width="0.3" text-anchor="middle" font-weight="normal" transform="rotate(90 973.0 629.8)">Non−template</text>
<line x1="42.3" x2="48.75" y1="435.93" y2="435.93" stroke="#333333" stroke-width="2.13"/>
<text x="38.4" y="442.7" font-size="17.6" fill="#4D4D4D" stroke="#4D4D4D" stroke-width="0.3" text-anchor="end" font-weight="normal">0</text>
<line x1="42.3" x2="48.75" y1="347.59" y2="347.59" stroke="#333333" stroke-width="2.13"/>
<text x="38.4" y="354.4" font-size="17.6" fill="#4D4D4D" stroke="#4D4D4D" stroke-width="0.3" text-anchor="end" font-weight="normal">2</text>
<line x1="42.3" x2="48.75" y1="259.25" y2="259.25" stroke="#333333" stroke-width="2.13"/>
<text x="38.4" y="266.1" font-size="17.6" fill="#4D4D4D" stroke="#4D4D4D" stroke-width="0.3" text-anchor="end" font-weight="normal">4</text>
<line x1="42.3" x2="48.75" y1="170.91" y2="170.91" stroke="#333333" stroke-width="2.13"/>
<text x="38.4" y="177.7" font-size="17.6" fill="#4D4D4D" stroke="#4D4D4D" stroke-width="0.3" text-anchor="end" font-weight="normal">6</text>
<line x1="42.3" x2="48.75" y1="781.90" y2="781.90" stroke="#333333" stroke-width="2.13"/>
<text x="38.4" y="788.7" font-size="17.6" fill="#4D4D4D" stroke="#4D4D4D" stroke-width="0.3" text-anchor="end" font-weight="normal">0</text>
<line x1="42.3" x2="48.75" y1="693.56" y2="693.56" stroke="#333333" stroke-width="2.13"/>
<text x="38.4" y="700.4" font-size="17.6" fill="#4D4D4D" stroke="#4D4D4D" stroke-width="0.3" text-anchor="end" font-weight="normal">2</text>
<line x1="42.3" x2="48.75" y1="605.22" y2="605.22" stroke="#333333" stroke-width="2.13"/>
<text x="38.4" y="612.0" font-size="17.6" fill="#4D4D4D" stroke="#4D4D4D" stroke-width="0.3" text-anchor="end" font-weight="normal">4</text>
<line x1="42.3" x2="48.75" y1="516.88" y2="516.88" stroke="#333333" stroke-width="2.13"/>
<text x="38.4" y="523.7" font-size="17.6" fill="#4D4D4D" stroke="#4D4D4D" stroke-width="0.3" text-anchor="end" font-weight="normal">6</text>
<line x1="136.90" x2="136.90" y1="796.4" y2="802.4" stroke="#333333" stroke-width="2.13"/>
<text x="136.9" y="820.4" font-size="17.6" fill="#4D4D4D" stroke="#4D4D4D" stroke-width="0.3" text-anchor="middle" font-weight="normal">−100</text>
<line x1="273.70" x2="273.70" y1="796.4" y2="802.4" stroke="#333333" stroke-width="2.13"/>
<text x="273.7" y="820.4" font-size="17.6" fill="#4D4D4D" stroke="#4D4D4D" stroke-width="0.3" text-anchor="middle" font-weight="normal">0</text>
<line x1="410.50" x2="410.50" y1="796.4" y2="802.4" stroke="#333333" stroke-width="2.13"/>
<text x="410.5" y="820.4" font-size="17.6" fill="#4D4D4D" stroke="#4D4D4D" stroke-width="0.3" text-anchor="middle" font-weight="normal">100</text>
<line x1="599.30" x2="599.30" y1="796.4" y2="802.4" stroke="#333333" stroke-width="2.13"/>
<text x="599.3" y="820.4" font-size="17.6" fill="#4D4D4D" stroke="#4D4D4D" stroke-width="0.3" text-anchor="middle" font-weight="normal">−100</text>
<line x1="736.10" x2="736.10" y1="796.4" y2="802.4" stroke="#333333" stroke-width="2.13"/>
<text x="736.1" y="820.4" font-size="17.6" fill="#4D4D4D" stroke="#4D4D4D" stroke-width="0.3" text-anchor="middle" font-weight="normal">0</text>
<line x1="872.90" x2="872.90" y1="796.4" y2="802.4" stroke="#333333" stroke-width="2.13"/>
<text x="872.9" y="820.4" font-size="17.6" fill="#4D4D4D" stroke="#4D4D4D" stroke-width="0.3" text-anchor="middle" font-weight="normal">100</text>
<text x="16.9" y="457.0" font-size="22.25" fill="#000" stroke="#000" stroke-width="0.3" text-anchor="middle" font-weight="normal" transform="rotate(-90 16.9 457.0)">Enrrichment</text>
<text x="242.2" y="36.7" font-size="22" fill="#000" stroke="#000" stroke-width="0.3" text-anchor="start" font-weight="normal" textLength="257.5" lengthAdjust="spacing">Splice site stregth quartile</text>
<line x1="513.1" x2="541.0" y1="29.5" y2="29.5" stroke="#F8766D" stroke-width="2.3"/>
<text x="555.3" y="35.5" font-size="17.6" fill="#000" stroke="#000" stroke-width="0.3" text-anchor="start" font-weight="normal">1</text>
<line x1="580.2" x2="608.1" y1="29.5" y2="29.5" stroke="#7CAE00" stroke-width="2.3"/>
<text x="622.4" y="35.5" font-size="17.6" fill="#000" stroke="#000" stroke-width="0.3" text-anchor="start" font-weight="normal">2</text>
<line x1="647.4" x2="675.3" y1="29.5" y2="29.5" stroke="#00BFC4" stroke-width="2.3"/>
<text x="689.6" y="35.5" font-size="17.6" fill="#000" stroke="#000" stroke-width="0.3" text-anchor="start" font-weight="normal">3</text>
<line x1="714.5" x2="742.4" y1="29.5" y2="29.5" stroke="#C77CFF" stroke-width="2.3"/>
<text x="756.7" y="35.5" font-size="17.6" fill="#000" stroke="#000" stroke-width="0.3" text-anchor="start" font-weight="normal">4</text>
<text x="0" y="19.8" font-size="28" fill="#000" stroke="#000" stroke-width="0.2" text-anchor="start" font-weight="bold">A</text>
<line x1="48.2" x2="274" y1="856.1" y2="856.1" stroke="#666666" stroke-width="1.76"/>
<line x1="739" x2="962" y1="856.1" y2="856.1" stroke="#666666" stroke-width="1.76"/>
<rect x="274" y="835.05" width="465" height="42.0" fill="#CCCCCC" stroke="#666666" stroke-width="1.76"/>
<text x="46.9" y="848.2" font-size="20.4" fill="#000" stroke="#000" stroke-width="0.3" text-anchor="start" font-weight="normal" textLength="146.9" lengthAdjust="spacing">Upstream Intron</text>
<text x="966.2" y="848.2" font-size="20.4" fill="#000" stroke="#000" stroke-width="0.3" text-anchor="end" font-weight="normal" textLength="172.4" lengthAdjust="spacing">Downstream Intron</text>
<text x="493.0" y="863.0" font-size="24.5" fill="#000" stroke="#000" stroke-width="0.3" text-anchor="middle" font-weight="normal">Exon</text>
<clipPath id="pb0"><rect x="48.67" y="1049.3" width="468.2" height="353.70000000000005"/></clipPath>
<rect x="48.67" y="1049.3" width="468.2" height="353.70000000000005" fill="#fff"/>
<g stroke="#EBEBEB" clip-path="url(#pb0)"><line x1="122.78" x2="122.78" y1="1049.3" y2="1403.0" stroke-width="1.07"/><line x1="229.43" x2="229.43" y1="1049.3" y2="1403.0" stroke-width="1.07"/><line x1="336.07" x2="336.07" y1="1049.3" y2="1403.0" stroke-width="1.07"/><line x1="442.73" x2="442.73" y1="1049.3" y2="1403.0" stroke-width="1.07"/><line x1="48.67" x2="516.87" y1="1344.55" y2="1344.55" stroke-width="1.07"/><line x1="48.67" x2="516.87" y1="1234.85" y2="1234.85" stroke-width="1.07"/><line x1="48.67" x2="516.87" y1="1125.15" y2="1125.15" stroke-width="1.07"/><line x1="69.45" x2="69.45" y1="1049.3" y2="1403.0" stroke-width="2.13"/><line x1="176.10" x2="176.10" y1="1049.3" y2="1403.0" stroke-width="2.13"/><line x1="282.75" x2="282.75" y1="1049.3" y2="1403.0" stroke-width="2.13"/><line x1="389.40" x2="389.40" y1="1049.3" y2="1403.0" stroke-width="2.13"/><line x1="496.05" x2="496.05" y1="1049.3" y2="1403.0" stroke-width="2.13"/><line x1="48.67" x2="516.87" y1="1399.40" y2="1399.40" stroke-width="2.13"/><line x1="48.67" x2="516.87" y1="1289.70" y2="1289.70" stroke-width="2.13"/><line x1="48.67" x2="516.87" y1="1180.00" y2="1180.00" stroke-width="2.13"/><line x1="48.67" x2="516.87" y1="1070.30" y2="1070.30" stroke-width="2.13"/></g>
<polyline clip-path="url(#pb0)" points="69.4,1297.3 71.6,1296.9 73.7,1296.5 75.8,1295.7 78.0,1295.7 80.1,1295.6 82.2,1295.3 84.4,1295.5 86.5,1295.6 88.6,1295.9 90.8,1296.5 92.9,1296.5 95.0,1296.4 97.2,1296.7 99.3,1297.4 101.4,1298.7 103.6,1299.0 105.7,1299.8 107.8,1299.7 110.0,1299.1 112.1,1299.6 114.2,1299.3 116.4,1299.1 118.5,1299.0 120.6,1299.8 122.8,1298.9 124.9,1299.3 127.0,1299.7 129.2,1299.8 131.3,1299.6 133.4,1300.7 135.6,1300.9 137.7,1301.1 139.8,1301.5 142.0,1301.9 144.1,1302.9 146.2,1304.1 148.4,1303.9 150.5,1304.6 152.6,1304.8 154.8,1304.2 156.9,1303.7 159.0,1302.8 161.2,1302.2 163.3,1301.6 165.4,1301.8 167.6,1302.0 169.7,1301.8 171.8,1301.6 174.0,1301.7 176.1,1301.5 178.2,1301.5 180.4,1302.4 182.5,1302.6 184.6,1303.1 186.8,1302.8 188.9,1303.6 191.0,1303.9 193.2,1303.9 195.3,1303.7 197.4,1304.2 199.6,1304.1 201.7,1304.0 203.8,1304.0 206.0,1304.5 208.1,1305.1 210.2,1306.6 212.4,1307.7 214.5,1309.6 216.6,1312.1 218.8,1314.6 220.9,1317.2 223.0,1319.1 225.2,1321.5 227.3,1323.5 229.4,1324.8 231.6,1324.0 233.7,1323.6 235.8,1321.6 238.0,1320.3 240.1,1318.9 242.2,1318.3 244.4,1318.1 246.5,1318.2 248.6,1318.3 250.8,1316.1 252.9,1310.0 255.0,1301.9 257.2,1301.3 259.3,1281.1 261.4,1282.8 263.6,1288.4 265.7,1282.1 267.8,1300.3 270.0,1324.1 272.1,1347.3 274.2,1356.8 276.4,1316.0 278.5,1331.5 280.6,1319.9 282.8,1270.2 284.9,1261.1 287.0,1250.2 289.1,1279.8 291.3,1271.7 293.4,1263.5 295.5,1298.9 297.7,1294.4 299.8,1292.5 301.9,1291.5 304.1,1290.5 306.2,1290.0 308.3,1289.3 310.5,1290.0 312.6,1289.9 314.7,1289.6 316.9,1288.0 319.0,1286.9 321.1,1286.1 323.3,1286.1 325.4,1285.7 327.5,1286.1 329.7,1287.2 331.8,1290.0 333.9,1290.7 336.1,1290.7 338.2,1289.9 340.3,1289.3 342.5,1289.2 344.6,1288.7 346.7,1288.8 348.9,1288.3 351.0,1288.7 353.1,1288.1 355.3,1288.7 357.4,1289.1 359.5,1288.2 361.7,1288.6 363.8,1288.8 365.9,1288.9 368.1,1288.0 370.2,1287.9 372.3,1287.5 374.5,1288.0 376.6,1287.7 378.7,1288.5 380.9,1287.7 383.0,1288.0 385.1,1288.9 387.3,1288.6 389.4,1288.4 391.5,1289.0 393.7,1288.4 395.8,1288.1 397.9,1287.6 400.1,1287.9 402.2,1288.1 404.3,1287.8 406.5,1288.5 408.6,1288.4 410.7,1288.8 412.9,1288.8 415.0,1288.2 417.1,1288.0 419.3,1287.8 421.4,1287.2 423.5,1286.1 425.7,1285.6 427.8,1285.3 429.9,1284.9 432.1,1285.0 434.2,1285.2 436.3,1285.4 438.5,1285.8 440.6,1287.0 442.7,1287.3 444.9,1288.1 447.0,1288.9 449.1,1289.2 451.3,1289.6 453.4,1288.5 455.5,1288.0 457.7,1287.0 459.8,1287.2 461.9,1286.6 464.1,1285.9 466.2,1285.9 468.3,1286.4 470.5,1287.3 472.6,1288.5 474.7,1289.1 476.9,1290.2 479.0,1290.1 481.1,1289.9 483.3,1290.8 485.4,1290.9 487.5,1289.6 489.7,1290.2 491.8,1289.3 493.9,1290.5 496.1,1291.6" fill="none" stroke="#F8766D" stroke-width="2.3" stroke-linejoin="round" stroke-linecap="butt"/>
<polyline clip-path="url(#pb0)" points="69.4,1270.8 71.6,1270.3 73.7,1269.4 75.8,1269.4 78.0,1268.6 80.1,1268.6 82.2,1268.2 84.4,1267.9 86.5,1267.3 88.6,1267.1 90.8,1266.4 92.9,1266.1 95.0,1266.4 97.2,1265.4 99.3,1266.0 101.4,1266.0 103.6,1265.8 105.7,1266.2 107.8,1265.9 110.0,1265.5 112.1,1265.0 114.2,1264.9 116.4,1264.0 118.5,1263.4 120.6,1262.9 122.8,1261.9 124.9,1261.8 127.0,1260.9 129.2,1260.2 131.3,1260.4 133.4,1259.9 135.6,1259.1 137.7,1259.1 139.8,1258.6 142.0,1257.0 144.1,1255.8 146.2,1254.3 148.4,1253.7 150.5,1252.9 152.6,1252.3 154.8,1251.2 156.9,1251.0 159.0,1250.4 161.2,1250.3 163.3,1249.7 165.4,1248.6 167.6,1247.4 169.7,1246.5 171.8,1246.4 174.0,1246.9 176.1,1247.6 178.2,1248.5 180.4,1249.3 182.5,1249.9 184.6,1251.3 186.8,1252.7 188.9,1254.1 191.0,1255.5 193.2,1256.4 195.3,1258.3 197.4,1259.2 199.6,1261.1 201.7,1262.1 203.8,1264.2 206.0,1266.0 208.1,1267.9 210.2,1270.6 212.4,1272.5 214.5,1274.3 216.6,1275.2 218.8,1276.4 220.9,1275.6 223.0,1272.5 225.2,1267.9 227.3,1265.9 229.4,1253.3 231.6,1254.0 233.7,1253.6 235.8,1247.4 238.0,1250.7 240.1,1255.9 242.2,1260.0 244.4,1263.1 246.5,1266.8 248.6,1270.1 250.8,1273.6 252.9,1277.3 255.0,1281.6 257.2,1286.1 259.3,1290.6 261.4,1295.5 263.6,1301.7 265.7,1307.3 267.8,1313.2 270.0,1319.6 272.1,1329.2 274.2,1338.4 276.4,1342.0 278.5,1341.9 280.6,1337.7 282.8,1332.4 284.9,1331.2 287.0,1330.8 289.1,1329.6 291.3,1328.3 293.4,1326.8 295.5,1325.2 297.7,1323.1 299.8,1321.0 301.9,1320.0 304.1,1318.3 306.2,1316.9 308.3,1315.0 310.5,1313.9 312.6,1312.2 314.7,1310.4 316.9,1309.9 319.0,1315.3 321.1,1313.5 323.3,1313.9 325.4,1318.5 327.5,1318.5 329.7,1317.2 331.8,1317.1 333.9,1316.2 336.1,1316.1 338.2,1315.5 340.3,1315.1 342.5,1314.8 344.6,1313.5 346.7,1313.6 348.9,1313.0 351.0,1313.0 353.1,1312.8 355.3,1312.2 357.4,1311.7 359.5,1310.9 361.7,1311.0 363.8,1310.4 365.9,1310.7 368.1,1310.0 370.2,1310.5 372.3,1309.5 374.5,1309.9 376.6,1309.4 378.7,1309.6 380.9,1309.3 383.0,1309.2 385.1,1308.6 387.3,1308.4 389.4,1308.0 391.5,1308.0 393.7,1308.4 395.8,1307.8 397.9,1307.9 400.1,1307.0 402.2,1306.0 404.3,1306.0 406.5,1305.6 408.6,1305.7 410.7,1304.8 412.9,1304.6 415.0,1304.4 417.1,1303.5 419.3,1303.6 421.4,1302.4 423.5,1302.2 425.7,1301.4 427.8,1300.3 429.9,1299.4 432.1,1299.5 434.2,1298.9 436.3,1298.8 438.5,1298.2 440.6,1298.0 442.7,1297.9 444.9,1297.2 447.0,1297.3 449.1,1296.2 451.3,1295.5 453.4,1295.1 455.5,1294.1 457.7,1293.8 459.8,1293.4 461.9,1292.9 464.1,1292.6 466.2,1292.6 468.3,1292.1 470.5,1291.1 472.6,1291.1 474.7,1290.9 476.9,1290.5 479.0,1290.5 481.1,1290.7 483.3,1290.6 485.4,1290.1 487.5,1289.4 489.7,1288.6 491.8,1288.1 493.9,1287.1 496.1,1287.2" fill="none" stroke="#B79F00" stroke-width="2.3" stroke-linejoin="round" stroke-linecap="butt"/>
<polyline clip-path="url(#pb0)" points="69.4,1257.9 71.6,1257.5 73.7,1257.0 75.8,1255.9 78.0,1255.2 80.1,1254.2 82.2,1253.2 84.4,1252.6 86.5,1251.9 88.6,1251.3 90.8,1250.4 92.9,1249.9 95.0,1248.3 97.2,1246.8 99.3,1245.8 101.4,1243.8 103.6,1242.0 105.7,1241.1 107.8,1239.2 110.0,1237.5 112.1,1236.1 114.2,1234.5 116.4,1233.5 118.5,1231.8 120.6,1230.4 122.8,1228.7 124.9,1227.3 127.0,1225.7 129.2,1223.4 131.3,1222.4 133.4,1220.3 135.6,1218.7 137.7,1216.2 139.8,1214.0 142.0,1211.1 144.1,1208.5 146.2,1206.4 148.4,1204.7 150.5,1202.7 152.6,1200.7 154.8,1199.6 156.9,1197.3 159.0,1195.2 161.2,1193.3 163.3,1191.4 165.4,1190.5 167.6,1189.8 169.7,1188.3 171.8,1188.4 174.0,1188.1 176.1,1189.0 178.2,1188.9 180.4,1188.9 182.5,1189.1 184.6,1189.2 186.8,1189.1 188.9,1188.8 191.0,1188.5 193.2,1184.8 195.3,1182.7 197.4,1184.2 199.6,1172.3 201.7,1170.5 203.8,1174.4 206.0,1171.9 208.1,1175.1 210.2,1181.6 212.4,1186.2 214.5,1190.3 216.6,1193.7 218.8,1198.3 220.9,1202.0 223.0,1206.5 225.2,1211.5 227.3,1216.6 229.4,1222.2 231.6,1226.9 233.7,1232.4 235.8,1237.8 238.0,1243.1 240.1,1248.6 242.2,1253.3 244.4,1258.5 246.5,1262.6 248.6,1267.1 250.8,1272.3 252.9,1277.6 255.0,1281.9 257.2,1286.9 259.3,1291.8 261.4,1296.8 263.6,1301.5 265.7,1306.9 267.8,1312.0 270.0,1319.2 272.1,1326.1 274.2,1333.3 276.4,1340.8 278.5,1348.5 280.6,1351.5 282.8,1348.2 284.9,1349.1 287.0,1349.2 289.1,1349.4 291.3,1351.8 293.4,1353.1 295.5,1353.3 297.7,1353.2 299.8,1352.3 301.9,1352.4 304.1,1351.7 306.2,1351.0 308.3,1350.5 310.5,1349.2 312.6,1348.3 314.7,1347.7 316.9,1347.4 319.0,1347.0 321.1,1345.8 323.3,1344.8 325.4,1344.5 327.5,1343.8 329.7,1343.6 331.8,1343.8 333.9,1342.2 336.1,1341.8 338.2,1340.6 340.3,1340.4 342.5,1340.1 344.6,1340.0 346.7,1339.6 348.9,1341.3 351.0,1341.0 353.1,1341.0 355.3,1343.0 357.4,1342.2 359.5,1341.6 361.7,1341.6 363.8,1340.5 365.9,1341.2 368.1,1340.8 370.2,1340.3 372.3,1340.2 374.5,1339.8 376.6,1339.6 378.7,1338.7 380.9,1338.3 383.0,1338.0 385.1,1338.3 387.3,1337.9 389.4,1337.9 391.5,1337.6 393.7,1337.0 395.8,1336.4 397.9,1336.5 400.1,1335.7 402.2,1335.3 404.3,1335.0 406.5,1333.8 408.6,1333.3 410.7,1333.4 412.9,1332.0 415.0,1330.9 417.1,1330.4 419.3,1329.2 421.4,1328.1 423.5,1327.3 425.7,1326.7 427.8,1325.8 429.9,1325.2 432.1,1323.9 434.2,1323.3 436.3,1323.2 438.5,1322.0 440.6,1321.3 442.7,1319.7 444.9,1317.9 447.0,1317.0 449.1,1315.4 451.3,1314.4 453.4,1313.2 455.5,1312.0 457.7,1309.8 459.8,1308.3 461.9,1306.4 464.1,1304.8 466.2,1302.6 468.3,1301.9 470.5,1300.7 472.6,1299.2 474.7,1297.6 476.9,1296.7 479.0,1295.4 481.1,1293.3 483.3,1291.6 485.4,1290.1 487.5,1289.1 489.7,1288.3 491.8,1287.4 493.9,1286.0 496.1,1285.1" fill="none" stroke="#00BA38" stroke-width="2.3" stroke-linejoin="round" stroke-linecap="butt"/>
<polyline clip-path="url(#pb0)" points="69.4,1249.6 71.6,1247.6 73.7,1245.7 75.8,1243.9 78.0,1241.8 80.1,1240.7 82.2,1239.4 84.4,1237.4 86.5,1235.3 88.6,1233.4 90.8,1231.3 92.9,1229.8 95.0,1228.1 97.2,1226.4 99.3,1225.0 101.4,1223.6 103.6,1222.1 105.7,1220.5 107.8,1218.7 110.0,1217.2 112.1,1215.1 114.2,1212.8 116.4,1210.6 118.5,1208.1 120.6,1205.9 122.8,1203.3 124.9,1201.6 127.0,1199.9 129.2,1198.2 131.3,1196.0 133.4,1193.8 135.6,1191.8 137.7,1188.7 139.8,1186.3 142.0,1183.0 144.1,1179.5 146.2,1176.8 148.4,1173.0 150.5,1170.7 152.6,1169.3 154.8,1167.9 156.9,1165.8 159.0,1162.5 161.2,1159.1 163.3,1154.5 165.4,1150.6 167.6,1145.5 169.7,1137.7 171.8,1134.0 174.0,1135.6 176.1,1129.7 178.2,1130.9 180.4,1133.2 182.5,1135.5 184.6,1137.6 186.8,1139.3 188.9,1141.2 191.0,1143.8 193.2,1146.0 195.3,1148.6 197.4,1151.9 199.6,1155.5 201.7,1159.1 203.8,1162.4 206.0,1165.7 208.1,1168.5 210.2,1171.6 212.4,1176.5 214.5,1181.2 216.6,1186.1 218.8,1191.2 220.9,1195.4 223.0,1200.5 225.2,1205.3 227.3,1210.3 229.4,1214.4 231.6,1219.3 233.7,1224.9 235.8,1230.0 238.0,1235.2 240.1,1241.4 242.2,1246.0 244.4,1251.9 246.5,1257.1 248.6,1262.8 250.8,1268.0 252.9,1272.9 255.0,1278.0 257.2,1282.8 259.3,1289.0 261.4,1294.6 263.6,1300.5 265.7,1305.8 267.8,1311.8 270.0,1318.9 272.1,1327.4 274.2,1335.6 276.4,1345.3 278.5,1352.8 280.6,1354.0 282.8,1355.3 284.9,1357.0 287.0,1358.0 289.1,1359.3 291.3,1361.0 293.4,1361.5 295.5,1362.7 297.7,1363.4 299.8,1364.3 301.9,1364.8 304.1,1365.9 306.2,1366.0 308.3,1365.4 310.5,1366.4 312.6,1366.3 314.7,1365.9 316.9,1365.6 319.0,1364.9 321.1,1364.2 323.3,1363.8 325.4,1363.8 327.5,1363.8 329.7,1363.5 331.8,1363.4 333.9,1363.7 336.1,1363.0 338.2,1363.0 340.3,1362.1 342.5,1361.8 344.6,1361.2 346.7,1361.3 348.9,1360.7 351.0,1360.1 353.1,1360.0 355.3,1359.6 357.4,1359.2 359.5,1358.5 361.7,1357.7 363.8,1357.5 365.9,1356.6 368.1,1356.5 370.2,1356.4 372.3,1355.9 374.5,1355.1 376.6,1354.5 378.7,1354.2 380.9,1354.0 383.0,1353.2 385.1,1353.1 387.3,1353.0 389.4,1352.3 391.5,1351.3 393.7,1350.4 395.8,1349.7 397.9,1349.1 400.1,1348.3 402.2,1347.3 404.3,1346.9 406.5,1345.9 408.6,1345.2 410.7,1345.0 412.9,1343.8 415.0,1342.4 417.1,1341.6 419.3,1340.0 421.4,1339.7 423.5,1338.4 425.7,1337.1 427.8,1336.0 429.9,1335.0 432.1,1333.1 434.2,1331.9 436.3,1331.6 438.5,1330.2 440.6,1329.3 442.7,1327.3 444.9,1325.9 447.0,1324.2 449.1,1323.0 451.3,1321.3 453.4,1319.6 455.5,1318.1 457.7,1315.7 459.8,1312.8 461.9,1311.2 464.1,1309.1 466.2,1307.1 468.3,1305.2 470.5,1303.3 472.6,1301.2 474.7,1299.0 476.9,1296.8 479.0,1295.6 481.1,1294.5 483.3,1292.5 485.4,1291.3 487.5,1289.6 489.7,1287.7 491.8,1286.2 493.9,1284.1 496.1,1282.3" fill="none" stroke="#00BFC4" stroke-width="2.3" stroke-linejoin="round" stroke-linecap="butt"/>
<polyline clip-path="url(#pb0)" points="69.4,1237.8 71.6,1236.3 73.7,1235.1 75.8,1233.4 78.0,1231.5 80.1,1230.0 82.2,1227.4 84.4,1225.3 86.5,1224.1 88.6,1221.5 90.8,1219.5 92.9,1217.3 95.0,1215.2 97.2,1212.2 99.3,1210.0 101.4,1207.2 103.6,1204.4 105.7,1202.1 107.8,1199.7 110.0,1196.8 112.1,1194.1 114.2,1191.1 116.4,1188.7 118.5,1185.8 120.6,1182.8 122.8,1179.6 124.9,1176.2 127.0,1173.2 129.2,1169.8 131.3,1166.1 133.4,1162.5 135.6,1157.9 137.7,1151.9 139.8,1141.9 142.0,1133.2 144.1,1133.0 146.2,1125.1 148.4,1124.4 150.5,1124.1 152.6,1123.7 154.8,1123.2 156.9,1123.5 159.0,1122.3 161.2,1122.4 163.3,1121.8 165.4,1121.9 167.6,1122.9 169.7,1125.5 171.8,1127.8 174.0,1130.6 176.1,1132.1 178.2,1134.2 180.4,1135.4 182.5,1136.9 184.6,1138.0 186.8,1139.4 188.9,1142.0 191.0,1144.5 193.2,1147.4 195.3,1150.1 197.4,1153.3 199.6,1156.4 201.7,1159.1 203.8,1163.1 206.0,1165.9 208.1,1169.9 210.2,1174.2 212.4,1177.9 214.5,1182.7 216.6,1187.5 218.8,1191.6 220.9,1196.0 223.0,1200.0 225.2,1204.1 227.3,1208.5 229.4,1212.6 231.6,1216.7 233.7,1221.2 235.8,1225.1 238.0,1229.5 240.1,1233.4 242.2,1238.1 244.4,1242.6 246.5,1247.1 248.6,1251.7 250.8,1256.3 252.9,1260.9 255.0,1266.1 257.2,1271.5 259.3,1276.4 261.4,1281.8 263.6,1286.9 265.7,1293.3 267.8,1299.3 270.0,1306.3 272.1,1313.0 274.2,1321.4 276.4,1329.8 278.5,1336.8 280.6,1342.6 282.8,1347.0 284.9,1350.0 287.0,1353.0 289.1,1355.6 291.3,1358.4 293.4,1360.9 295.5,1362.7 297.7,1364.5 299.8,1365.7 301.9,1366.6 304.1,1367.6 306.2,1368.5 308.3,1368.6 310.5,1368.7 312.6,1368.9 314.7,1369.9 316.9,1369.9 319.0,1370.6 321.1,1371.0 323.3,1371.5 325.4,1371.9 327.5,1371.8 329.7,1371.9 331.8,1371.7 333.9,1370.9 336.1,1370.3 338.2,1370.7 340.3,1370.0 342.5,1370.1 344.6,1369.1 346.7,1368.3 348.9,1368.1 351.0,1367.4 353.1,1367.1 355.3,1366.3 357.4,1366.2 359.5,1365.6 361.7,1364.9 363.8,1365.3 365.9,1364.8 368.1,1364.8 370.2,1364.1 372.3,1363.6 374.5,1364.0 376.6,1363.1 378.7,1362.1 380.9,1360.6 383.0,1360.4 385.1,1360.1 387.3,1359.6 389.4,1359.4 391.5,1358.6 393.7,1358.2 395.8,1357.4 397.9,1357.0 400.1,1356.5 402.2,1355.3 404.3,1354.7 406.5,1354.2 408.6,1353.8 410.7,1353.3 412.9,1352.2 415.0,1351.4 417.1,1350.1 419.3,1349.4 421.4,1348.6 423.5,1346.9 425.7,1346.0 427.8,1344.8 429.9,1344.4 432.1,1342.5 434.2,1341.1 436.3,1340.0 438.5,1338.6 440.6,1336.8 442.7,1335.2 444.9,1333.2 447.0,1331.1 449.1,1329.0 451.3,1327.0 453.4,1324.9 455.5,1323.1 457.7,1320.9 459.8,1319.1 461.9,1317.5 464.1,1315.7 466.2,1313.6 468.3,1311.7 470.5,1309.3 472.6,1306.9 474.7,1305.5 476.9,1303.6 479.0,1302.2 481.1,1300.8 483.3,1299.8 485.4,1298.1 487.5,1296.9 489.7,1295.0 491.8,1293.0 493.9,1291.3 496.1,1289.4" fill="none" stroke="#619CFF" stroke-width="2.3" stroke-linejoin="round" stroke-linecap="butt"/>
<polyline clip-path="url(#pb0)" points="69.4,1231.8 71.6,1229.8 73.7,1228.3 75.8,1226.4 78.0,1224.7 80.1,1223.9 82.2,1222.4 84.4,1220.8 86.5,1219.5 88.6,1218.1 90.8,1216.3 92.9,1214.9 95.0,1212.7 97.2,1210.7 99.3,1208.0 101.4,1205.5 103.6,1200.9 105.7,1196.7 107.8,1190.7 110.0,1183.8 112.1,1178.8 114.2,1175.0 116.4,1171.7 118.5,1169.0 120.6,1166.1 122.8,1164.7 124.9,1163.6 127.0,1163.3 129.2,1162.3 131.3,1161.9 133.4,1159.9 135.6,1158.5 137.7,1158.4 139.8,1157.9 142.0,1158.0 144.1,1158.8 146.2,1159.7 148.4,1161.0 150.5,1161.2 152.6,1163.6 154.8,1165.1 156.9,1166.7 159.0,1168.3 161.2,1169.6 163.3,1171.0 165.4,1173.3 167.6,1175.3 169.7,1177.5 171.8,1178.0 174.0,1179.3 176.1,1180.6 178.2,1183.0 180.4,1185.1 182.5,1187.6 184.6,1189.6 186.8,1192.4 188.9,1194.3 191.0,1197.1 193.2,1198.7 195.3,1200.6 197.4,1204.0 199.6,1206.3 201.7,1208.9 203.8,1211.8 206.0,1214.6 208.1,1218.0 210.2,1220.4 212.4,1224.0 214.5,1226.5 216.6,1228.7 218.8,1232.1 220.9,1235.3 223.0,1237.9 225.2,1241.5 227.3,1243.9 229.4,1246.2 231.6,1247.8 233.7,1251.0 235.8,1253.1 238.0,1256.4 240.1,1259.5 242.2,1263.0 244.4,1266.9 246.5,1269.6 248.6,1272.2 250.8,1274.4 252.9,1277.3 255.0,1280.6 257.2,1284.0 259.3,1288.2 261.4,1292.4 263.6,1297.7 265.7,1302.1 267.8,1307.2 270.0,1312.9 272.1,1318.0 274.2,1323.8 276.4,1330.3 278.5,1337.0 280.6,1344.7 282.8,1350.2 284.9,1353.6 287.0,1356.5 289.1,1359.0 291.3,1361.0 293.4,1364.2 295.5,1366.4 297.7,1368.5 299.8,1369.5 301.9,1371.7 304.1,1373.2 306.2,1373.7 308.3,1375.2 310.5,1375.5 312.6,1376.0 314.7,1377.0 316.9,1377.2 319.0,1377.7 321.1,1377.9 323.3,1378.9 325.4,1378.8 327.5,1379.1 329.7,1378.8 331.8,1379.0 333.9,1379.4 336.1,1379.3 338.2,1379.4 340.3,1379.6 342.5,1379.6 344.6,1379.4 346.7,1378.8 348.9,1378.5 351.0,1378.0 353.1,1377.4 355.3,1376.3 357.4,1375.9 359.5,1375.4 361.7,1374.8 363.8,1375.2 365.9,1373.6 368.1,1373.2 370.2,1372.4 372.3,1371.6 374.5,1372.0 376.6,1371.0 378.7,1370.3 380.9,1370.5 383.0,1369.4 385.1,1368.8 387.3,1368.2 389.4,1367.8 391.5,1367.5 393.7,1367.4 395.8,1366.7 397.9,1366.8 400.1,1366.5 402.2,1364.8 404.3,1364.2 406.5,1363.6 408.6,1362.8 410.7,1361.2 412.9,1359.9 415.0,1358.7 417.1,1357.9 419.3,1356.7 421.4,1354.6 423.5,1353.3 425.7,1352.0 427.8,1350.6 429.9,1349.9 432.1,1348.8 434.2,1348.0 436.3,1346.2 438.5,1344.6 440.6,1343.3 442.7,1341.5 444.9,1340.1 447.0,1339.1 449.1,1337.8 451.3,1335.4 453.4,1334.5 455.5,1332.8 457.7,1330.8 459.8,1329.5 461.9,1327.9 464.1,1326.8 466.2,1325.5 468.3,1323.6 470.5,1322.4 472.6,1320.8 474.7,1319.1 476.9,1317.0 479.0,1315.7 481.1,1315.0 483.3,1313.4 485.4,1311.9 487.5,1310.8 489.7,1309.5 491.8,1308.4 493.9,1306.7 496.1,1305.2" fill="none" stroke="#F564E3" stroke-width="2.3" stroke-linejoin="round" stroke-linecap="butt"/>
<rect x="48.67" y="1049.3" width="468.2" height="353.70000000000005" fill="none" stroke="#333333" stroke-width="1.45"/>
<rect x="48.67" y="1013.5" width="468.2" height="35.09999999999991" fill="#D9D9D9" stroke="#333333" stroke-width="1.45"/>
<clipPath id="pb1"><rect x="529.06" y="1049.3" width="468.24" height="353.70000000000005"/></clipPath>
<rect x="529.06" y="1049.3" width="468.24" height="353.70000000000005" fill="#fff"/>
<g stroke="#EBEBEB" clip-path="url(#pb1)"><line x1="603.23" x2="603.23" y1="1049.3" y2="1403.0" stroke-width="1.07"/><line x1="709.88" x2="709.88" y1="1049.3" y2="1403.0" stroke-width="1.07"/><line x1="816.53" x2="816.53" y1="1049.3" y2="1403.0" stroke-width="1.07"/><line x1="923.18" x2="923.18" y1="1049.3" y2="1403.0" stroke-width="1.07"/><line x1="529.06" x2="997.3" y1="1344.55" y2="1344.55" stroke-width="1.07"/><line x1="529.06" x2="997.3" y1="1234.85" y2="1234.85" stroke-width="1.07"/><line x1="529.06" x2="997.3" y1="1125.15" y2="1125.15" stroke-width="1.07"/><line x1="549.90" x2="549.90" y1="1049.3" y2="1403.0" stroke-width="2.13"/><line x1="656.55" x2="656.55" y1="1049.3" y2="1403.0" stroke-width="2.13"/><line x1="763.20" x2="763.20" y1="1049.3" y2="1403.0" stroke-width="2.13"/><line x1="869.85" x2="869.85" y1="1049.3" y2="1403.0" stroke-width="2.13"/><line x1="976.50" x2="976.50" y1="1049.3" y2="1403.0" stroke-width="2.13"/><line x1="529.06" x2="997.3" y1="1399.40" y2="1399.40" stroke-width="2.13"/><line x1="529.06" x2="997.3" y1="1289.70" y2="1289.70" stroke-width="2.13"/><line x1="529.06" x2="997.3" y1="1180.00" y2="1180.00" stroke-width="2.13"/><line x1="529.06" x2="997.3" y1="1070.30" y2="1070.30" stroke-width="2.13"/></g>
<polyline clip-path="url(#pb1)" points="549.9,1292.4 552.0,1292.7 554.2,1293.0 556.3,1292.6 558.4,1292.3 560.6,1291.9 562.7,1291.4 564.8,1291.6 567.0,1291.5 569.1,1291.9 571.2,1291.2 573.4,1290.8 575.5,1291.2 577.6,1290.6 579.8,1290.9 581.9,1291.0 584.0,1291.0 586.2,1290.9 588.3,1290.8 590.4,1290.6 592.6,1290.9 594.7,1290.4 596.8,1290.1 599.0,1289.5 601.1,1289.6 603.2,1289.2 605.4,1290.1 607.5,1289.8 609.6,1289.5 611.8,1289.4 613.9,1289.3 616.0,1289.5 618.2,1289.3 620.3,1288.9 622.4,1289.8 624.6,1290.3 626.7,1290.6 628.8,1291.0 631.0,1290.7 633.1,1290.4 635.2,1289.2 637.4,1288.6 639.5,1287.5 641.6,1286.6 643.8,1286.1 645.9,1286.3 648.0,1285.4 650.2,1285.3 652.3,1285.2 654.4,1285.4 656.6,1285.5 658.7,1285.0 660.8,1284.6 662.9,1284.6 665.1,1284.8 667.2,1285.1 669.3,1284.9 671.5,1285.1 673.6,1285.2 675.7,1286.4 677.9,1287.1 680.0,1286.9 682.1,1287.0 684.3,1285.7 686.4,1286.4 688.5,1286.0 690.7,1285.8 692.8,1285.3 694.9,1286.8 697.1,1286.8 699.2,1287.6 701.3,1288.5 703.5,1288.4 705.6,1287.5 707.7,1286.6 709.9,1284.6 712.0,1284.0 714.1,1283.4 716.3,1284.1 718.4,1284.3 720.5,1285.7 722.7,1286.1 724.8,1286.9 726.9,1286.8 729.1,1288.1 731.2,1288.4 733.3,1289.1 735.5,1289.1 737.6,1289.2 739.7,1285.5 741.9,1283.3 744.0,1286.8 746.1,1290.1 748.3,1292.5 750.4,1302.7 752.5,1319.2 754.7,1331.8 756.8,1335.2 758.9,1325.6 761.1,1345.6 763.2,1324.6 765.3,1307.9 767.5,1307.1 769.6,1318.9 771.7,1300.8 773.9,1291.0 776.0,1287.4 778.1,1280.9 780.3,1275.3 782.4,1274.3 784.5,1275.9 786.7,1279.9 788.8,1283.4 790.9,1282.5 793.1,1285.4 795.2,1289.7 797.3,1292.5 799.5,1295.3 801.6,1298.6 803.7,1301.2 805.9,1301.5 808.0,1301.6 810.1,1301.2 812.3,1300.8 814.4,1300.7 816.5,1301.5 818.7,1301.0 820.8,1301.4 822.9,1301.0 825.1,1301.0 827.2,1300.8 829.3,1300.8 831.5,1300.3 833.6,1300.2 835.7,1299.9 837.9,1299.2 840.0,1299.4 842.1,1298.3 844.3,1298.4 846.4,1298.7 848.5,1297.8 850.7,1298.2 852.8,1298.4 854.9,1298.2 857.1,1297.7 859.2,1298.3 861.3,1297.1 863.5,1295.8 865.6,1295.1 867.7,1294.1 869.9,1294.5 872.0,1294.4 874.1,1295.0 876.2,1295.0 878.4,1295.7 880.5,1296.2 882.6,1296.6 884.8,1296.9 886.9,1296.7 889.0,1296.7 891.2,1296.5 893.3,1295.8 895.4,1294.7 897.6,1294.8 899.7,1294.5 901.8,1294.8 904.0,1294.8 906.1,1295.1 908.2,1294.9 910.4,1295.3 912.5,1295.1 914.6,1296.1 916.8,1295.8 918.9,1295.5 921.0,1295.0 923.2,1295.0 925.3,1294.7 927.4,1294.8 929.6,1294.1 931.7,1294.7 933.8,1295.0 936.0,1295.7 938.1,1295.6 940.2,1295.5 942.4,1295.1 944.5,1294.2 946.6,1293.6 948.8,1292.8 950.9,1292.9 953.0,1293.1 955.2,1293.6 957.3,1293.9 959.4,1294.8 961.6,1295.7 963.7,1296.4 965.8,1295.9 968.0,1295.9 970.1,1295.6 972.2,1295.4 974.4,1294.6 976.5,1294.3" fill="none" stroke="#F8766D" stroke-width="2.3" stroke-linejoin="round" stroke-linecap="butt"/>
<polyline clip-path="url(#pb1)" points="549.9,1298.9 552.0,1298.3 554.2,1299.0 556.3,1299.3 558.4,1299.1 560.6,1299.8 562.7,1300.2 564.8,1300.3 567.0,1300.7 569.1,1300.3 571.2,1301.2 573.4,1301.7 575.5,1302.0 577.6,1302.2 579.8,1302.5 581.9,1302.6 584.0,1303.1 586.2,1303.1 588.3,1304.0 590.4,1303.8 592.6,1304.7 594.7,1304.6 596.8,1305.3 599.0,1305.8 601.1,1307.0 603.2,1307.6 605.4,1308.5 607.5,1309.1 609.6,1309.0 611.8,1309.3 613.9,1309.7 616.0,1309.5 618.2,1309.4 620.3,1309.4 622.4,1309.2 624.6,1309.1 626.7,1308.9 628.8,1308.3 631.0,1308.4 633.1,1308.5 635.2,1308.0 637.4,1308.4 639.5,1308.4 641.6,1308.9 643.8,1309.6 645.9,1309.5 648.0,1309.4 650.2,1309.7 652.3,1309.6 654.4,1309.9 656.6,1309.4 658.7,1309.6 660.8,1309.8 662.9,1309.4 665.1,1310.3 667.2,1310.0 669.3,1310.7 671.5,1310.9 673.6,1311.0 675.7,1311.2 677.9,1310.9 680.0,1310.9 682.1,1310.5 684.3,1309.7 686.4,1310.1 688.5,1309.7 690.7,1310.0 692.8,1310.0 694.9,1309.7 697.1,1309.9 699.2,1309.4 701.3,1309.8 703.5,1309.3 705.6,1309.3 707.7,1309.4 709.9,1309.7 712.0,1307.9 714.1,1307.5 716.3,1306.9 718.4,1308.0 720.5,1310.7 722.7,1314.8 724.8,1318.5 726.9,1321.8 729.1,1325.8 731.2,1328.7 733.3,1330.5 735.5,1332.4 737.6,1334.8 739.7,1337.3 741.9,1339.7 744.0,1341.7 746.1,1344.0 748.3,1344.5 750.4,1344.8 752.5,1344.0 754.7,1345.6 756.8,1337.7 758.9,1335.5 761.1,1334.4 763.2,1328.1 765.3,1320.1 767.5,1313.8 769.6,1307.8 771.7,1299.7 773.9,1291.5 776.0,1283.0 778.1,1274.2 780.3,1266.5 782.4,1259.1 784.5,1252.4 786.7,1245.4 788.8,1237.3 790.9,1231.5 793.1,1226.1 795.2,1221.9 797.3,1221.3 799.5,1220.7 801.6,1217.2 803.7,1216.7 805.9,1218.2 808.0,1217.1 810.1,1215.9 812.3,1216.8 814.4,1218.6 816.5,1219.2 818.7,1219.2 820.8,1219.7 822.9,1221.4 825.1,1223.5 827.2,1226.0 829.3,1228.0 831.5,1230.5 833.6,1232.3 835.7,1234.1 837.9,1234.9 840.0,1235.9 842.1,1237.2 844.3,1238.2 846.4,1239.7 848.5,1241.0 850.7,1242.1 852.8,1244.1 854.9,1245.1 857.1,1245.2 859.2,1246.0 861.3,1246.6 863.5,1247.6 865.6,1248.2 867.7,1248.7 869.9,1250.0 872.0,1250.5 874.1,1251.6 876.2,1251.8 878.4,1252.1 880.5,1252.1 882.6,1252.4 884.8,1252.6 886.9,1253.8 889.0,1254.3 891.2,1254.4 893.3,1255.0 895.4,1255.3 897.6,1256.0 899.7,1256.7 901.8,1257.1 904.0,1258.1 906.1,1258.7 908.2,1259.1 910.4,1260.4 912.5,1260.6 914.6,1261.1 916.8,1262.0 918.9,1262.2 921.0,1262.1 923.2,1263.0 925.3,1263.6 927.4,1263.9 929.6,1265.0 931.7,1264.9 933.8,1265.5 936.0,1265.2 938.1,1266.4 940.2,1266.4 942.4,1267.3 944.5,1267.2 946.6,1268.5 948.8,1269.1 950.9,1269.8 953.0,1268.9 955.2,1270.2 957.3,1270.7 959.4,1270.7 961.6,1272.0 963.7,1272.9 965.8,1273.8 968.0,1273.5 970.1,1274.0 972.2,1274.1 974.4,1274.6 976.5,1274.7" fill="none" stroke="#B79F00" stroke-width="2.3" stroke-linejoin="round" stroke-linecap="butt"/>
<polyline clip-path="url(#pb1)" points="549.9,1303.6 552.0,1304.6 554.2,1305.8 556.3,1306.6 558.4,1308.0 560.6,1309.4 562.7,1310.7 564.8,1312.0 567.0,1313.1 569.1,1314.4 571.2,1315.0 573.4,1315.9 575.5,1316.7 577.6,1318.0 579.8,1318.8 581.9,1319.4 584.0,1320.0 586.2,1321.3 588.3,1322.9 590.4,1323.8 592.6,1324.7 594.7,1326.3 596.8,1327.2 599.0,1327.9 601.1,1328.8 603.2,1330.6 605.4,1330.6 607.5,1331.2 609.6,1332.1 611.8,1332.9 613.9,1333.2 616.0,1333.7 618.2,1334.5 620.3,1334.7 622.4,1335.4 624.6,1335.6 626.7,1335.9 628.8,1336.6 631.0,1337.2 633.1,1338.6 635.2,1338.9 637.4,1339.2 639.5,1338.6 641.6,1338.7 643.8,1338.7 645.9,1339.4 648.0,1339.0 650.2,1339.0 652.3,1338.8 654.4,1339.5 656.6,1340.8 658.7,1341.1 660.8,1342.3 662.9,1341.9 665.1,1342.1 667.2,1342.0 669.3,1341.6 671.5,1341.4 673.6,1340.5 675.7,1340.7 677.9,1340.9 680.0,1340.9 682.1,1340.9 684.3,1340.8 686.4,1341.0 688.5,1341.5 690.7,1342.2 692.8,1343.5 694.9,1345.6 697.1,1346.7 699.2,1347.7 701.3,1348.7 703.5,1350.2 705.6,1350.6 707.7,1351.7 709.9,1353.4 712.0,1354.4 714.1,1356.1 716.3,1357.3 718.4,1358.0 720.5,1359.7 722.7,1361.0 724.8,1361.5 726.9,1361.4 729.1,1361.7 731.2,1360.6 733.3,1359.9 735.5,1358.4 737.6,1355.5 739.7,1352.7 741.9,1350.3 744.0,1347.4 746.1,1344.3 748.3,1341.8 750.4,1339.8 752.5,1337.1 754.7,1333.6 756.8,1328.5 758.9,1325.4 761.1,1323.8 763.2,1320.3 765.3,1314.1 767.5,1309.1 769.6,1302.7 771.7,1295.0 773.9,1286.7 776.0,1277.5 778.1,1268.1 780.3,1259.0 782.4,1250.6 784.5,1239.8 786.7,1226.7 788.8,1214.2 790.9,1204.2 793.1,1197.1 795.2,1190.7 797.3,1185.4 799.5,1179.1 801.6,1172.9 803.7,1167.7 805.9,1162.6 808.0,1159.1 810.1,1155.7 812.3,1153.6 814.4,1149.9 816.5,1147.6 818.7,1145.1 820.8,1143.1 822.9,1141.2 825.1,1138.6 827.2,1136.4 829.3,1134.3 831.5,1132.6 833.6,1130.6 835.7,1129.4 837.9,1128.9 840.0,1128.4 842.1,1129.4 844.3,1131.0 846.4,1133.5 848.5,1136.3 850.7,1139.9 852.8,1143.9 854.9,1148.6 857.1,1153.2 859.2,1157.2 861.3,1161.5 863.5,1165.5 865.6,1169.1 867.7,1172.7 869.9,1176.1 872.0,1179.7 874.1,1183.8 876.2,1186.9 878.4,1189.8 880.5,1192.9 882.6,1195.1 884.8,1197.8 886.9,1200.4 889.0,1203.5 891.2,1207.1 893.3,1210.8 895.4,1213.6 897.6,1216.7 899.7,1219.3 901.8,1221.5 904.0,1223.6 906.1,1226.2 908.2,1227.9 910.4,1229.7 912.5,1231.5 914.6,1233.2 916.8,1235.1 918.9,1236.8 921.0,1239.3 923.2,1240.5 925.3,1242.5 927.4,1243.9 929.6,1245.2 931.7,1247.3 933.8,1248.7 936.0,1249.3 938.1,1250.7 940.2,1251.1 942.4,1251.5 944.5,1251.9 946.6,1252.2 948.8,1252.7 950.9,1253.0 953.0,1253.0 955.2,1253.5 957.3,1254.1 959.4,1254.8 961.6,1255.4 963.7,1255.8 965.8,1256.6 968.0,1257.2 970.1,1257.7 972.2,1258.2 974.4,1259.7 976.5,1260.9" fill="none" stroke="#00BA38" stroke-width="2.3" stroke-linejoin="round" stroke-linecap="butt"/>
<polyline clip-path="url(#pb1)" points="549.9,1314.5 552.0,1316.1 554.2,1317.2 556.3,1319.1 558.4,1320.7 560.6,1321.9 562.7,1323.1 564.8,1324.6 567.0,1326.6 569.1,1328.4 571.2,1329.3 573.4,1331.0 575.5,1332.5 577.6,1333.1 579.8,1334.7 581.9,1336.6 584.0,1337.7 586.2,1338.7 588.3,1339.5 590.4,1340.7 592.6,1341.5 594.7,1343.6 596.8,1344.0 599.0,1344.9 601.1,1346.4 603.2,1347.7 605.4,1348.1 607.5,1349.1 609.6,1349.6 611.8,1350.4 613.9,1350.9 616.0,1351.7 618.2,1352.8 620.3,1354.0 622.4,1355.6 624.6,1355.5 626.7,1356.2 628.8,1357.1 631.0,1357.0 633.1,1357.4 635.2,1358.5 637.4,1358.7 639.5,1359.8 641.6,1360.6 643.8,1360.7 645.9,1361.4 648.0,1362.3 650.2,1361.9 652.3,1362.2 654.4,1362.5 656.6,1362.5 658.7,1362.4 660.8,1363.3 662.9,1363.2 665.1,1364.5 667.2,1365.5 669.3,1366.7 671.5,1367.4 673.6,1368.6 675.7,1369.0 677.9,1370.0 680.0,1370.2 682.1,1370.9 684.3,1372.0 686.4,1372.8 688.5,1373.5 690.7,1374.2 692.8,1374.4 694.9,1375.1 697.1,1374.9 699.2,1375.9 701.3,1376.6 703.5,1376.9 705.6,1377.2 707.7,1377.0 709.9,1376.9 712.0,1376.3 714.1,1375.7 716.3,1373.9 718.4,1369.9 720.5,1367.5 722.7,1363.4 724.8,1359.7 726.9,1355.8 729.1,1352.9 731.2,1350.1 733.3,1347.5 735.5,1345.9 737.6,1344.5 739.7,1342.5 741.9,1340.9 744.0,1339.2 746.1,1338.0 748.3,1335.4 750.4,1334.0 752.5,1332.0 754.7,1327.0 756.8,1321.8 758.9,1320.4 761.1,1318.0 763.2,1314.0 765.3,1309.6 767.5,1303.9 769.6,1296.9 771.7,1288.5 773.9,1279.3 776.0,1270.5 778.1,1261.2 780.3,1252.8 782.4,1236.3 784.5,1220.8 786.7,1211.8 788.8,1204.4 790.9,1196.8 793.1,1189.1 795.2,1182.4 797.3,1175.0 799.5,1168.2 801.6,1161.6 803.7,1154.4 805.9,1147.7 808.0,1141.4 810.1,1134.9 812.3,1128.7 814.4,1123.8 816.5,1118.4 818.7,1114.6 820.8,1111.2 822.9,1107.7 825.1,1106.1 827.2,1104.5 829.3,1102.8 831.5,1101.6 833.6,1100.1 835.7,1098.2 837.9,1097.0 840.0,1095.6 842.1,1093.8 844.3,1092.5 846.4,1091.2 848.5,1090.2 850.7,1088.6 852.8,1087.5 854.9,1086.4 857.1,1087.1 859.2,1089.4 861.3,1087.1 863.5,1085.0 865.6,1086.0 867.7,1088.0 869.9,1090.4 872.0,1094.2 874.1,1098.1 876.2,1103.2 878.4,1108.6 880.5,1114.4 882.6,1120.4 884.8,1125.8 886.9,1131.6 889.0,1137.4 891.2,1142.3 893.3,1147.6 895.4,1152.0 897.6,1157.0 899.7,1162.1 901.8,1167.3 904.0,1172.9 906.1,1177.4 908.2,1183.3 910.4,1187.9 912.5,1192.1 914.6,1196.3 916.8,1200.2 918.9,1204.4 921.0,1207.8 923.2,1211.2 925.3,1214.5 927.4,1217.8 929.6,1220.7 931.7,1223.8 933.8,1226.9 936.0,1229.5 938.1,1232.0 940.2,1234.1 942.4,1236.8 944.5,1239.4 946.6,1241.1 948.8,1242.9 950.9,1245.1 953.0,1246.6 955.2,1248.3 957.3,1250.1 959.4,1251.9 961.6,1253.5 963.7,1254.8 965.8,1256.8 968.0,1257.6 970.1,1258.5 972.2,1260.2 974.4,1261.8 976.5,1262.4" fill="none" stroke="#00BFC4" stroke-width="2.3" stroke-linejoin="round" stroke-linecap="butt"/>
<polyline clip-path="url(#pb1)" points="549.9,1312.0 552.0,1313.6 554.2,1315.3 556.3,1316.8 558.4,1318.7 560.6,1320.0 562.7,1322.0 564.8,1323.3 567.0,1325.4 569.1,1327.4 571.2,1329.7 573.4,1330.7 575.5,1332.4 577.6,1334.5 579.8,1336.4 581.9,1337.2 584.0,1339.0 586.2,1340.3 588.3,1342.8 590.4,1344.4 592.6,1346.1 594.7,1347.3 596.8,1348.3 599.0,1349.4 601.1,1350.5 603.2,1351.8 605.4,1353.2 607.5,1354.8 609.6,1355.7 611.8,1357.1 613.9,1357.3 616.0,1358.7 618.2,1359.2 620.3,1360.1 622.4,1360.4 624.6,1360.8 626.7,1361.4 628.8,1362.7 631.0,1363.4 633.1,1364.6 635.2,1365.8 637.4,1366.8 639.5,1367.7 641.6,1368.0 643.8,1369.2 645.9,1370.5 648.0,1371.7 650.2,1372.1 652.3,1372.8 654.4,1373.9 656.6,1374.2 658.7,1374.6 660.8,1375.4 662.9,1376.2 665.1,1377.0 667.2,1377.2 669.3,1378.1 671.5,1378.3 673.6,1378.8 675.7,1378.9 677.9,1379.6 680.0,1380.1 682.1,1381.1 684.3,1381.8 686.4,1381.5 688.5,1382.7 690.7,1382.1 692.8,1381.6 694.9,1380.9 697.1,1380.3 699.2,1379.1 701.3,1376.8 703.5,1375.2 705.6,1373.0 707.7,1370.4 709.9,1367.3 712.0,1364.9 714.1,1361.5 716.3,1358.8 718.4,1356.1 720.5,1353.6 722.7,1351.3 724.8,1349.4 726.9,1347.4 729.1,1345.5 731.2,1343.1 733.3,1341.0 735.5,1338.4 737.6,1336.8 739.7,1334.9 741.9,1332.8 744.0,1330.8 746.1,1327.8 748.3,1325.1 750.4,1323.0 752.5,1320.8 754.7,1317.5 756.8,1311.6 758.9,1310.5 761.1,1308.3 763.2,1301.8 765.3,1290.2 767.5,1280.9 769.6,1271.6 771.7,1263.2 773.9,1255.2 776.0,1246.2 778.1,1233.1 780.3,1219.3 782.4,1207.8 784.5,1198.5 786.7,1189.9 788.8,1181.5 790.9,1174.0 793.1,1166.4 795.2,1158.8 797.3,1151.2 799.5,1143.1 801.6,1136.9 803.7,1130.5 805.9,1124.7 808.0,1118.7 810.1,1113.6 812.3,1108.4 814.4,1102.9 816.5,1098.8 818.7,1094.0 820.8,1090.3 822.9,1087.4 825.1,1084.2 827.2,1081.8 829.3,1079.4 831.5,1077.5 833.6,1075.5 835.7,1073.3 837.9,1071.8 840.0,1070.4 842.1,1068.6 844.3,1068.2 846.4,1068.5 848.5,1069.1 850.7,1070.1 852.8,1070.5 854.9,1070.1 857.1,1069.2 859.2,1068.9 861.3,1068.1 863.5,1067.5 865.6,1067.3 867.7,1066.8 869.9,1066.9 872.0,1066.3 874.1,1065.7 876.2,1065.1 878.4,1064.7 880.5,1064.9 882.6,1065.6 884.8,1066.6 886.9,1069.6 889.0,1072.0 891.2,1073.4 893.3,1074.9 895.4,1077.1 897.6,1082.1 899.7,1087.4 901.8,1092.8 904.0,1100.5 906.1,1110.8 908.2,1119.9 910.4,1128.2 912.5,1135.3 914.6,1142.9 916.8,1150.5 918.9,1157.9 921.0,1165.6 923.2,1172.1 925.3,1178.9 927.4,1184.6 929.6,1190.6 931.7,1195.8 933.8,1200.3 936.0,1204.7 938.1,1208.7 940.2,1213.0 942.4,1218.0 944.5,1221.7 946.6,1226.6 948.8,1230.6 950.9,1233.5 953.0,1236.5 955.2,1238.6 957.3,1240.6 959.4,1243.5 961.6,1245.8 963.7,1247.4 965.8,1249.5 968.0,1251.1 970.1,1252.3 972.2,1253.4 974.4,1255.4 976.5,1256.3" fill="none" stroke="#619CFF" stroke-width="2.3" stroke-linejoin="round" stroke-linecap="butt"/>
<polyline clip-path="url(#pb1)" points="549.9,1329.4 552.0,1330.2 554.2,1330.9 556.3,1332.2 558.4,1334.0 560.6,1335.5 562.7,1337.6 564.8,1339.0 567.0,1340.4 569.1,1341.9 571.2,1343.3 573.4,1344.7 575.5,1345.0 577.6,1345.5 579.8,1346.2 581.9,1349.4 584.0,1351.5 586.2,1353.0 588.3,1354.0 590.4,1355.3 592.6,1356.2 594.7,1356.9 596.8,1357.5 599.0,1358.4 601.1,1359.7 603.2,1360.5 605.4,1362.3 607.5,1363.1 609.6,1364.1 611.8,1365.4 613.9,1367.3 616.0,1368.4 618.2,1370.3 620.3,1371.3 622.4,1372.8 624.6,1373.7 626.7,1374.6 628.8,1375.1 631.0,1375.9 633.1,1376.5 635.2,1377.1 637.4,1377.8 639.5,1378.8 641.6,1379.8 643.8,1381.0 645.9,1381.8 648.0,1383.0 650.2,1383.6 652.3,1383.8 654.4,1384.0 656.6,1384.2 658.7,1384.1 660.8,1384.1 662.9,1383.9 665.1,1384.6 667.2,1384.8 669.3,1385.7 671.5,1386.4 673.6,1386.5 675.7,1387.2 677.9,1387.0 680.0,1385.8 682.1,1384.7 684.3,1383.1 686.4,1381.6 688.5,1380.0 690.7,1378.5 692.8,1376.4 694.9,1374.5 697.1,1372.2 699.2,1370.7 701.3,1369.0 703.5,1367.1 705.6,1366.0 707.7,1364.2 709.9,1362.6 712.0,1361.4 714.1,1360.8 716.3,1359.5 718.4,1358.0 720.5,1355.7 722.7,1354.0 724.8,1352.6 726.9,1351.4 729.1,1349.4 731.2,1348.1 733.3,1345.0 735.5,1342.3 737.6,1341.1 739.7,1339.9 741.9,1339.0 744.0,1337.1 746.1,1334.6 748.3,1332.6 750.4,1331.6 752.5,1329.7 754.7,1325.6 756.8,1313.3 758.9,1311.9 761.1,1311.5 763.2,1309.6 765.3,1294.8 767.5,1286.1 769.6,1272.7 771.7,1264.4 773.9,1257.3 776.0,1249.8 778.1,1240.8 780.3,1230.8 782.4,1220.6 784.5,1212.4 786.7,1205.4 788.8,1198.6 790.9,1193.1 793.1,1186.8 795.2,1182.7 797.3,1177.5 799.5,1173.2 801.6,1168.4 803.7,1162.9 805.9,1157.5 808.0,1153.2 810.1,1148.9 812.3,1145.0 814.4,1141.3 816.5,1138.0 818.7,1135.0 820.8,1131.4 822.9,1128.7 825.1,1124.9 827.2,1122.9 829.3,1120.5 831.5,1118.7 833.6,1118.0 835.7,1116.5 837.9,1115.7 840.0,1113.9 842.1,1113.1 844.3,1112.6 846.4,1111.7 848.5,1111.3 850.7,1110.6 852.8,1110.4 854.9,1109.6 857.1,1109.7 859.2,1108.6 861.3,1107.8 863.5,1107.8 865.6,1107.6 867.7,1107.4 869.9,1107.7 872.0,1107.3 874.1,1106.5 876.2,1105.1 878.4,1105.7 880.5,1107.6 882.6,1107.9 884.8,1107.7 886.9,1106.8 889.0,1106.4 891.2,1106.4 893.3,1105.6 895.4,1105.0 897.6,1103.9 899.7,1102.8 901.8,1103.3 904.0,1103.8 906.1,1104.3 908.2,1104.7 910.4,1105.1 912.5,1106.3 914.6,1107.4 916.8,1112.8 918.9,1119.0 921.0,1118.4 923.2,1118.8 925.3,1119.4 927.4,1129.6 929.6,1138.0 931.7,1146.9 933.8,1154.6 936.0,1162.4 938.1,1169.0 940.2,1175.6 942.4,1181.5 944.5,1187.8 946.6,1193.4 948.8,1198.7 950.9,1203.2 953.0,1207.6 955.2,1212.5 957.3,1217.7 959.4,1222.9 961.6,1227.5 963.7,1231.2 965.8,1234.9 968.0,1238.0 970.1,1240.6 972.2,1242.8 974.4,1244.5 976.5,1247.0" fill="none" stroke="#F564E3" stroke-width="2.3" stroke-linejoin="round" stroke-linecap="butt"/>
<rect x="529.06" y="1049.3" width="468.24" height="353.70000000000005" fill="none" stroke="#333333" stroke-width="1.45"/>
<rect x="529.06" y="1013.5" width="468.24" height="35.09999999999991" fill="#D9D9D9" stroke="#333333" stroke-width="1.45"/>
<text x="242.9" y="1037.4" font-size="18.3" fill="#1A1A1A" stroke="#1A1A1A" stroke-width="0.3" text-anchor="start" font-weight="normal">3’ Splice site</text>
<text x="711.2" y="1037.4" font-size="18.3" fill="#1A1A1A" stroke="#1A1A1A" stroke-width="0.3" text-anchor="start" font-weight="normal">5’ Splice site</text>
<line x1="42.3" x2="48.67" y1="1399.40" y2="1399.40" stroke="#333333" stroke-width="2.13"/>
<text x="38.4" y="1406.2" font-size="17.6" fill="#4D4D4D" stroke="#4D4D4D" stroke-width="0.3" text-anchor="end" font-weight="normal">0</text>
<line x1="42.3" x2="48.67" y1="1289.70" y2="1289.70" stroke="#333333" stroke-width="2.13"/>
<text x="38.4" y="1296.5" font-size="17.6" fill="#4D4D4D" stroke="#4D4D4D" stroke-width="0.3" text-anchor="end" font-weight="normal">1</text>
<line x1="42.3" x2="48.67" y1="1180.00" y2="1180.00" stroke="#333333" stroke-width="2.13"/>
<text x="38.4" y="1186.8" font-size="17.6" fill="#4D4D4D" stroke="#4D4D4D" stroke-width="0.3" text-anchor="end" font-weight="normal">2</text>
<line x1="42.3" x2="48.67" y1="1070.30" y2="1070.30" stroke="#333333" stroke-width="2.13"/>
<text x="38.4" y="1077.1" font-size="17.6" fill="#4D4D4D" stroke="#4D4D4D" stroke-width="0.3" text-anchor="end" font-weight="normal">3</text>
<line x1="69.45" x2="69.45" y1="1403.0" y2="1408.8" stroke="#333333" stroke-width="2.13"/>
<text x="69.4" y="1427.0" font-size="17.6" fill="#4D4D4D" stroke="#4D4D4D" stroke-width="0.3" text-anchor="middle" font-weight="normal">−100</text>
<line x1="176.10" x2="176.10" y1="1403.0" y2="1408.8" stroke="#333333" stroke-width="2.13"/>
<text x="176.1" y="1427.0" font-size="17.6" fill="#4D4D4D" stroke="#4D4D4D" stroke-width="0.3" text-anchor="middle" font-weight="normal">−50</text>
<line x1="282.75" x2="282.75" y1="1403.0" y2="1408.8" stroke="#333333" stroke-width="2.13"/>
<text x="282.8" y="1427.0" font-size="17.6" fill="#4D4D4D" stroke="#4D4D4D" stroke-width="0.3" text-anchor="middle" font-weight="normal">0</text>
<line x1="389.40" x2="389.40" y1="1403.0" y2="1408.8" stroke="#333333" stroke-width="2.13"/>
<text x="389.4" y="1427.0" font-size="17.6" fill="#4D4D4D" stroke="#4D4D4D" stroke-width="0.3" text-anchor="middle" font-weight="normal">50</text>
<line x1="496.05" x2="496.05" y1="1403.0" y2="1408.8" stroke="#333333" stroke-width="2.13"/>
<text x="496.1" y="1427.0" font-size="17.6" fill="#4D4D4D" stroke="#4D4D4D" stroke-width="0.3" text-anchor="middle" font-weight="normal">100</text>
<line x1="549.90" x2="549.90" y1="1403.0" y2="1408.8" stroke="#333333" stroke-width="2.13"/>
<text x="549.9" y="1427.0" font-size="17.6" fill="#4D4D4D" stroke="#4D4D4D" stroke-width="0.3" text-anchor="middle" font-weight="normal">−100</text>
<line x1="656.55" x2="656.55" y1="1403.0" y2="1408.8" stroke="#333333" stroke-width="2.13"/>
<text x="656.6" y="1427.0" font-size="17.6" fill="#4D4D4D" stroke="#4D4D4D" stroke-width="0.3" text-anchor="middle" font-weight="normal">−50</text>
<line x1="763.20" x2="763.20" y1="1403.0" y2="1408.8" stroke="#333333" stroke-width="2.13"/>
<text x="763.2" y="1427.0" font-size="17.6" fill="#4D4D4D" stroke="#4D4D4D" stroke-width="0.3" text-anchor="middle" font-weight="normal">0</text>
<line x1="869.85" x2="869.85" y1="1403.0" y2="1408.8" stroke="#333333" stroke-width="2.13"/>
<text x="869.9" y="1427.0" font-size="17.6" fill="#4D4D4D" stroke="#4D4D4D" stroke-width="0.3" text-anchor="middle" font-weight="normal">50</text>
<line x1="976.50" x2="976.50" y1="1403.0" y2="1408.8" stroke="#333333" stroke-width="2.13"/>
<text x="976.5" y="1427.0" font-size="17.6" fill="#4D4D4D" stroke="#4D4D4D" stroke-width="0.3" text-anchor="middle" font-weight="normal">100</text>
<text x="17.2" y="1226.4" font-size="22.25" fill="#000" stroke="#000" stroke-width="0.3" text-anchor="middle" font-weight="normal" transform="rotate(-90 17.2 1226.4)">Enrrichment</text>
<text x="268.2" y="952.5" font-size="22" fill="#000" stroke="#000" stroke-width="0.3" text-anchor="start" font-weight="normal" textLength="308.6" lengthAdjust="spacing">Number of consecutive G−runs</text>
<line x1="590.3" x2="618.4" y1="927.3" y2="927.3" stroke="#F8766D" stroke-width="2.3"/>
<text x="632.7" y="933.3" font-size="17.6" fill="#000" stroke="#000" stroke-width="0.3" text-anchor="start" font-weight="normal">1</text>
<line x1="590.3" x2="618.4" y1="962.3" y2="962.3" stroke="#B79F00" stroke-width="2.3"/>
<text x="632.7" y="968.3" font-size="17.6" fill="#000" stroke="#000" stroke-width="0.3" text-anchor="start" font-weight="normal">2</text>
<line x1="657.3" x2="685.4" y1="927.3" y2="927.3" stroke="#00BA38" stroke-width="2.3"/>
<text x="699.7" y="933.3" font-size="17.6" fill="#000" stroke="#000" stroke-width="0.3" text-anchor="start" font-weight="normal">3</text>
<line x1="657.3" x2="685.4" y1="962.3" y2="962.3" stroke="#00BFC4" stroke-width="2.3"/>
<text x="699.7" y="968.3" font-size="17.6" fill="#000" stroke="#000" stroke-width="0.3" text-anchor="start" font-weight="normal">4</text>
<line x1="724.4" x2="752.5" y1="927.3" y2="927.3" stroke="#619CFF" stroke-width="2.3"/>
<text x="766.8" y="933.3" font-size="17.6" fill="#000" stroke="#000" stroke-width="0.3" text-anchor="start" font-weight="normal">5</text>
<line x1="724.4" x2="752.5" y1="962.3" y2="962.3" stroke="#F564E3" stroke-width="2.3"/>
<text x="766.8" y="968.3" font-size="17.6" fill="#000" stroke="#000" stroke-width="0.3" text-anchor="start" font-weight="normal">6</text>
<text x="0" y="917.9" font-size="28" fill="#000" stroke="#000" stroke-width="0.2" text-anchor="start" font-weight="bold">B</text>
<line x1="48.2" x2="282.3" y1="1468.5" y2="1468.5" stroke="#666666" stroke-width="1.76"/>
<line x1="763.3" x2="995.8" y1="1468.5" y2="1468.5" stroke="#666666" stroke-width="1.76"/>
<rect x="282.3" y="1447.4" width="481.0" height="40.6" fill="#CCCCCC" stroke="#666666" stroke-width="1.76"/>
<text x="46.9" y="1460.5" font-size="20.4" fill="#000" stroke="#000" stroke-width="0.3" text-anchor="start" font-weight="normal" textLength="146.9" lengthAdjust="spacing">Upstream Intron</text>
<text x="994.6" y="1460.5" font-size="20.4" fill="#000" stroke="#000" stroke-width="0.3" text-anchor="end" font-weight="normal" textLength="172.4" lengthAdjust="spacing">Downstream Intron</text>
<text x="506.9" y="1475.6" font-size="24.5" fill="#000" stroke="#000" stroke-width="0.3" text-anchor="middle" font-weight="normal">Exon</text>
</svg>
</body></html>
